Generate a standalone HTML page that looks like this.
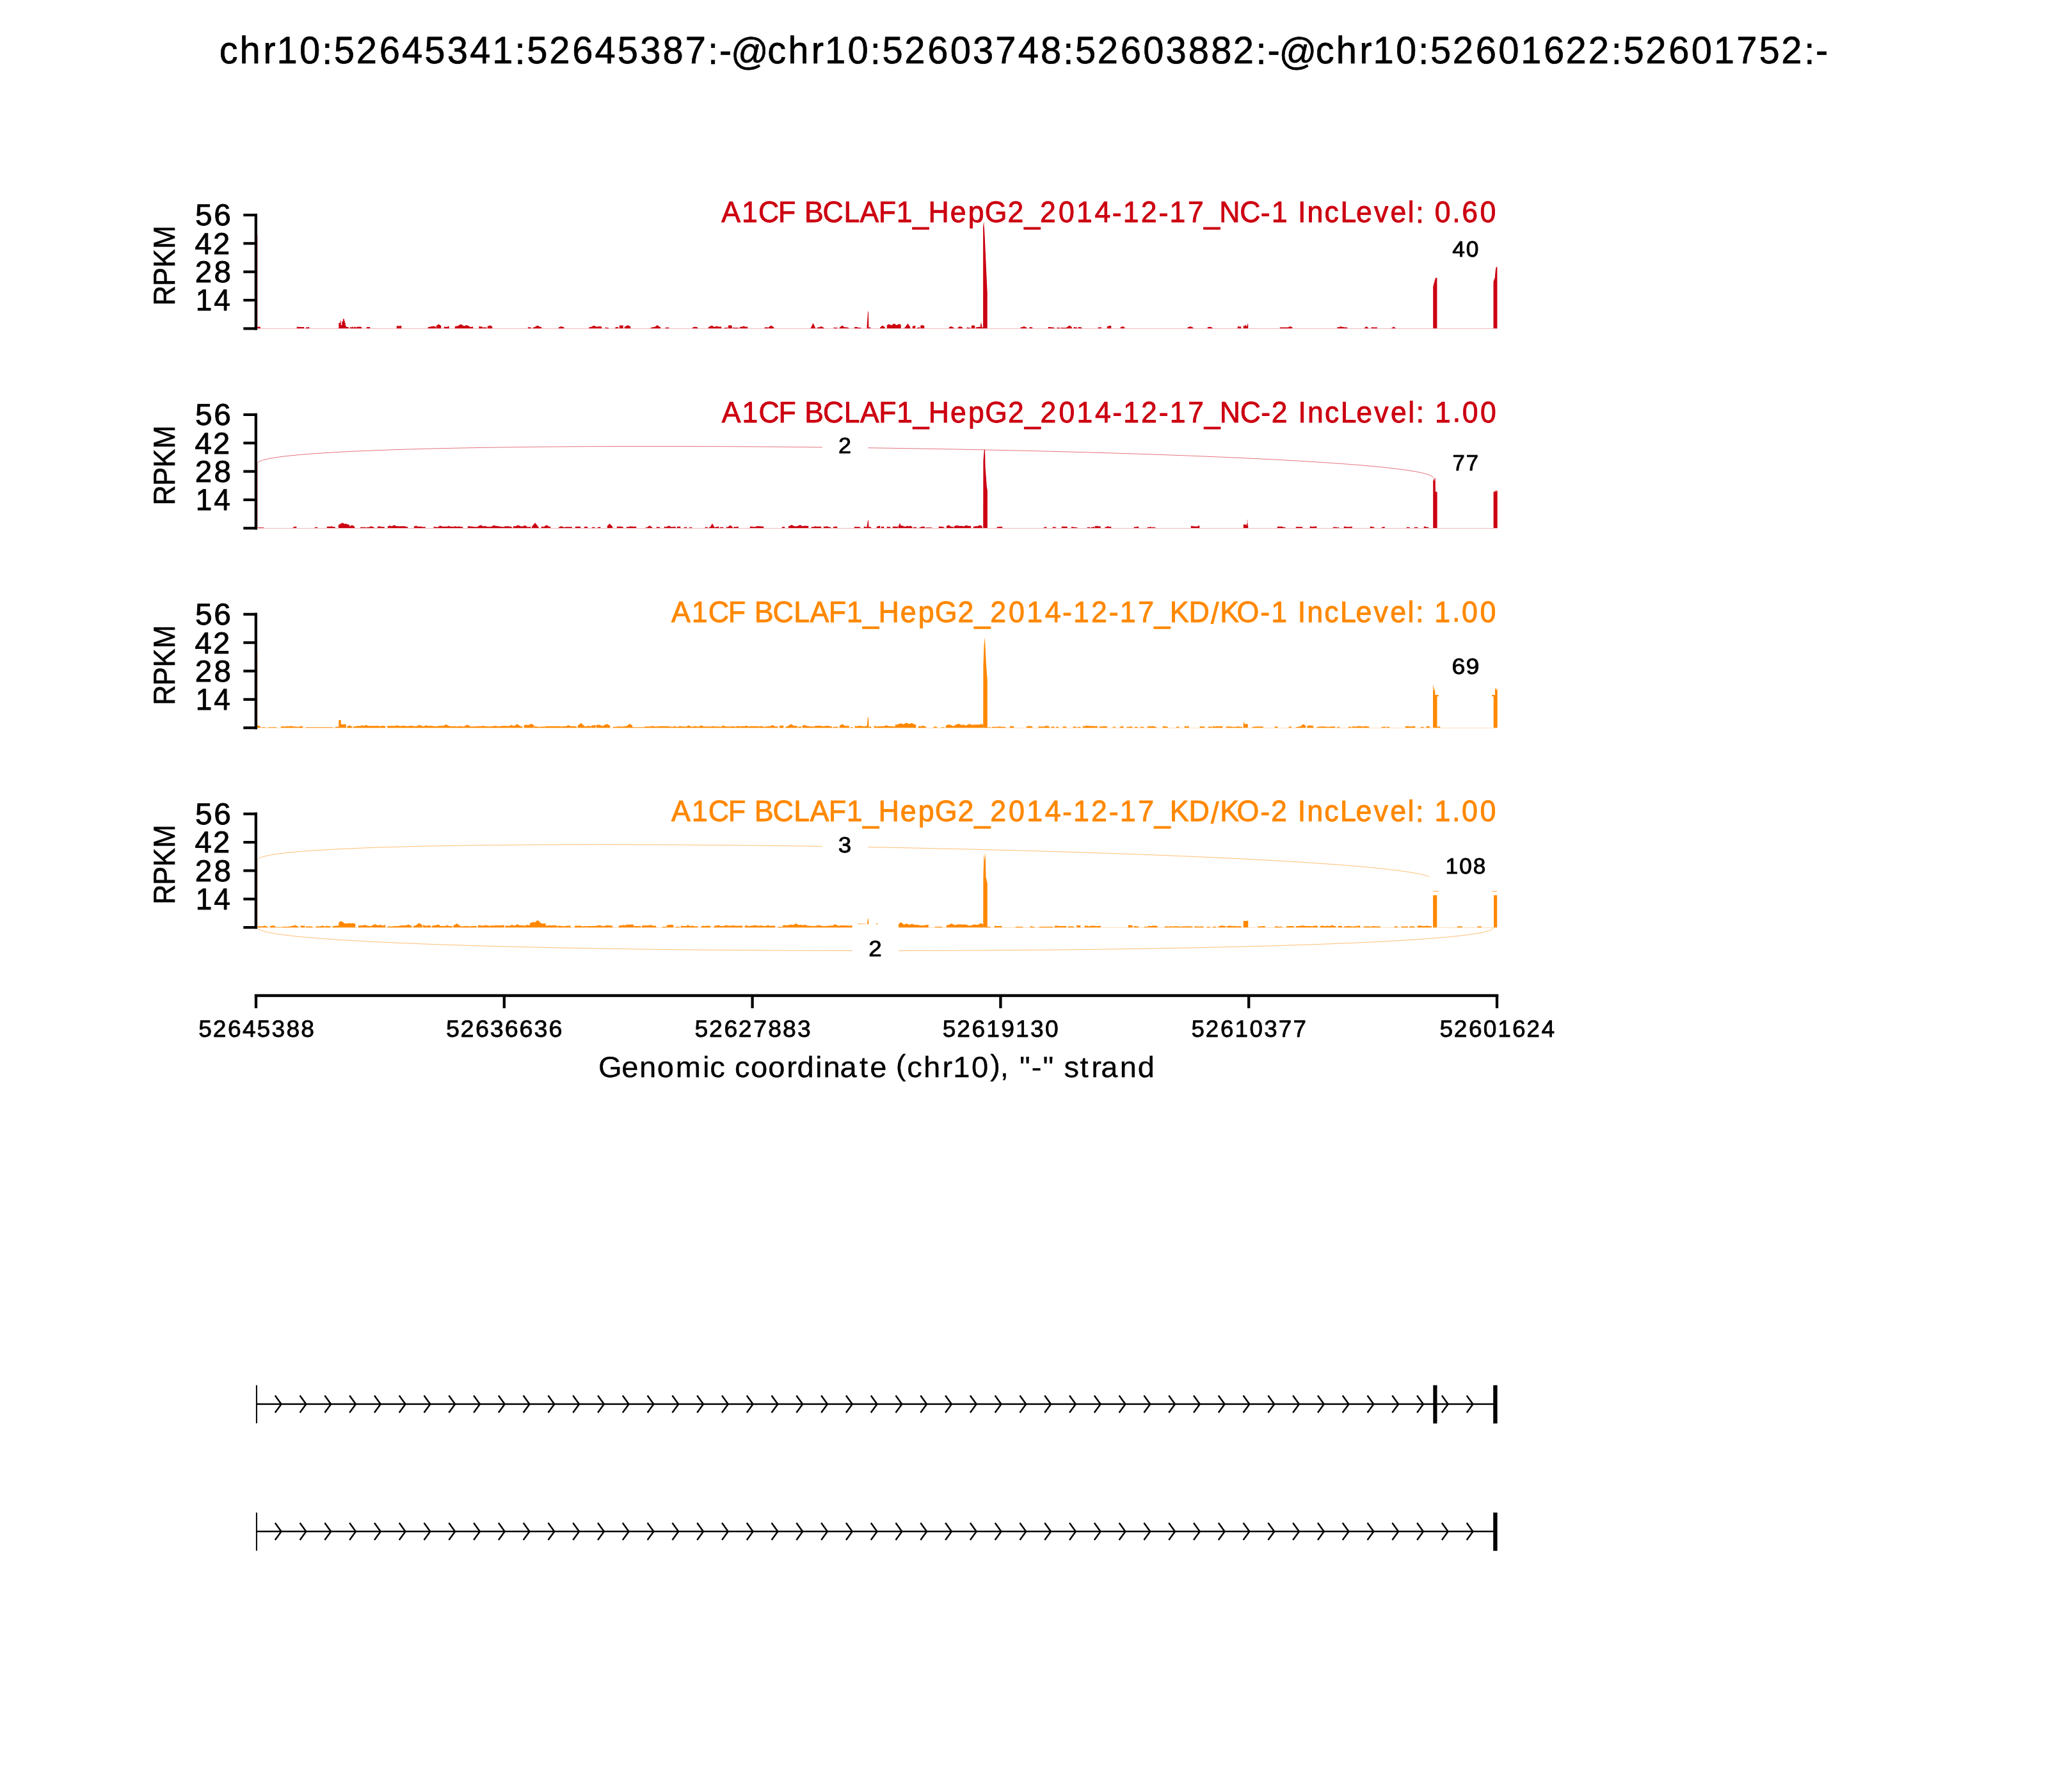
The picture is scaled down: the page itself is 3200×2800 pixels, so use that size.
<!DOCTYPE html>
<html><head><meta charset="utf-8"><title>sashimi</title><style>html,body{margin:0;padding:0;background:#fff;width:3200px;height:2800px;overflow:hidden}svg{will-change:transform}text{text-rendering:geometricPrecision}</style></head><body>
<svg width="3200" height="2800" viewBox="0 0 3200 2800" style="display:block">
<rect width="3200" height="2800" fill="#fff"/>
<g font-family="Liberation Sans, sans-serif">
<rect x="402.1" y="366.40" width="0.9" height="147.00" fill="#CC0011" opacity="0.35"/>
<path d="M401.75 513.40 L401.75 510.90 L403.75 510.90 L403.75 510.40 L406.75 510.40 L406.75 513.40ZM463.75 513.40 L463.75 510.40 L464.75 510.40 L464.75 510.90 L466.25 510.90 L466.25 510.40 L466.75 510.40 L466.75 510.90 L467.25 510.90 L467.25 510.40 L467.75 510.40 L467.75 510.90 L475.25 510.90 L475.25 513.40ZM477.75 513.40 L477.75 511.40 L481.25 511.40 L481.25 510.90 L481.75 510.90 L481.75 511.40 L482.25 511.40 L482.25 510.90 L483.25 510.90 L483.25 513.40ZM529.25 513.40 L529.25 504.40 L531.75 504.40 L531.75 500.90 L532.75 500.90 L532.75 507.90 L534.25 507.90 L534.25 502.40 L535.75 502.40 L535.75 499.40 L536.25 499.40 L536.25 497.90 L537.75 497.90 L537.75 500.90 L538.75 500.90 L538.75 504.40 L539.75 504.40 L539.75 507.90 L540.25 507.90 L540.25 509.90 L540.75 509.90 L540.75 509.40 L541.25 509.40 L541.25 510.90 L544.75 510.90 L544.75 513.40ZM546.75 513.40 L546.75 510.90 L547.75 510.90 L547.75 511.40 L549.75 511.40 L549.75 510.90 L550.25 510.90 L550.25 509.90 L550.75 509.90 L550.75 510.40 L551.25 510.40 L551.25 511.40 L553.75 511.40 L553.75 510.40 L554.25 510.40 L554.25 509.90 L554.75 509.90 L554.75 510.90 L555.25 510.90 L555.25 511.40 L557.25 511.40 L557.25 510.90 L557.75 510.90 L557.75 510.40 L558.75 510.40 L558.75 510.90 L559.75 510.90 L559.75 510.40 L563.75 510.40 L563.75 510.90 L565.25 510.90 L565.25 513.40ZM572.75 513.40 L572.75 510.90 L578.25 510.90 L578.25 513.40ZM619.75 513.40 L619.75 509.40 L620.75 509.40 L620.75 508.90 L622.25 508.90 L622.25 509.40 L624.25 509.40 L624.25 508.90 L627.25 508.90 L627.25 513.40ZM668.75 513.40 L668.75 510.90 L671.25 510.90 L671.25 510.40 L673.25 510.40 L673.25 509.90 L676.75 509.90 L676.75 509.40 L677.75 509.40 L677.75 509.90 L678.25 509.90 L678.25 509.40 L678.75 509.40 L678.75 509.90 L679.75 509.90 L679.75 510.40 L681.25 510.40 L681.25 513.40ZM681.75 513.40 L681.75 508.90 L682.25 508.90 L682.25 508.40 L682.75 508.40 L682.75 507.90 L683.75 507.90 L683.75 507.40 L684.25 507.40 L684.25 506.90 L685.25 506.90 L685.25 506.40 L685.75 506.40 L685.75 506.90 L686.75 506.90 L686.75 507.40 L687.25 507.40 L687.25 507.90 L688.25 507.90 L688.25 508.40 L688.75 508.40 L688.75 508.90 L689.25 508.90 L689.25 513.40ZM693.75 513.40 L693.75 510.40 L695.75 510.40 L695.75 510.90 L697.25 510.90 L697.25 510.40 L697.75 510.40 L697.75 510.90 L698.25 510.90 L698.25 510.40 L699.75 510.40 L699.75 509.90 L701.25 509.90 L701.25 509.40 L701.75 509.40 L701.75 513.40ZM710.75 513.40 L710.75 509.90 L712.25 509.90 L712.25 509.40 L712.75 509.40 L712.75 509.90 L713.25 509.90 L713.25 509.40 L715.25 509.40 L715.25 508.90 L716.25 508.90 L716.25 508.40 L717.25 508.40 L717.25 507.90 L717.75 507.90 L717.75 507.40 L718.75 507.40 L718.75 506.90 L719.75 506.90 L719.75 506.40 L720.25 506.40 L720.25 506.90 L721.25 506.90 L721.25 507.40 L722.25 507.40 L722.25 507.90 L722.75 507.90 L722.75 508.40 L723.75 508.40 L723.75 508.90 L724.75 508.90 L724.75 509.40 L725.75 509.40 L725.75 508.90 L727.25 508.90 L727.25 508.40 L728.25 508.40 L728.25 507.90 L729.75 507.90 L729.75 508.40 L730.75 508.40 L730.75 508.90 L732.25 508.90 L732.25 509.40 L733.25 509.40 L733.25 509.90 L733.75 509.90 L733.75 510.90 L734.25 510.90 L734.25 510.40 L734.75 510.40 L734.75 510.90 L736.75 510.90 L736.75 510.40 L739.25 510.40 L739.25 513.40ZM748.25 513.40 L748.25 509.90 L751.25 509.90 L751.25 510.40 L753.75 510.40 L753.75 510.90 L754.25 510.90 L754.25 513.40ZM754.75 513.40 L754.75 511.40 L759.75 511.40 L759.75 510.90 L760.25 510.90 L760.25 513.40ZM761.75 513.40 L761.75 509.40 L763.75 509.40 L763.75 508.90 L764.75 508.90 L764.75 508.40 L766.25 508.40 L766.25 508.90 L767.25 508.90 L767.25 509.40 L768.25 509.40 L768.25 509.90 L769.25 509.90 L769.25 513.40ZM824.75 513.40 L824.75 511.40 L825.75 511.40 L825.75 510.90 L826.75 510.90 L826.75 511.40 L828.75 511.40 L828.75 511.90 L829.25 511.90 L829.25 511.40 L829.75 511.40 L829.75 511.90 L830.25 511.90 L830.25 513.40ZM832.75 513.40 L832.75 511.40 L835.25 511.40 L835.25 510.90 L835.75 510.90 L835.75 510.40 L836.75 510.40 L836.75 509.90 L837.75 509.90 L837.75 509.40 L838.75 509.40 L838.75 508.90 L839.75 508.90 L839.75 508.40 L840.25 508.40 L840.25 508.90 L841.25 508.90 L841.25 509.40 L842.25 509.40 L842.25 509.90 L843.25 509.90 L843.25 510.40 L844.25 510.40 L844.25 510.90 L846.25 510.90 L846.25 513.40ZM872.75 513.40 L872.75 511.40 L873.75 511.40 L873.75 510.90 L874.75 510.90 L874.75 510.40 L876.25 510.40 L876.25 509.90 L877.75 509.90 L877.75 510.40 L879.25 510.40 L879.25 510.90 L881.25 510.90 L881.25 513.40ZM920.25 513.40 L920.25 510.90 L921.25 510.90 L921.25 511.40 L922.25 511.40 L922.25 510.90 L923.75 510.90 L923.75 510.40 L924.75 510.40 L924.75 509.90 L925.75 509.90 L925.75 509.40 L926.75 509.40 L926.75 508.90 L927.75 508.90 L927.75 508.40 L928.25 508.40 L928.25 508.90 L929.25 508.90 L929.25 509.40 L930.25 509.40 L930.25 509.90 L931.25 509.90 L931.25 510.40 L934.25 510.40 L934.25 509.90 L934.75 509.90 L934.75 510.40 L935.25 510.40 L935.25 509.90 L939.25 509.90 L939.25 510.40 L940.25 510.40 L940.25 513.40ZM945.75 513.40 L945.75 511.40 L947.75 511.40 L947.75 511.90 L950.75 511.90 L950.75 513.40ZM961.25 513.40 L961.25 511.40 L962.75 511.40 L962.75 510.90 L965.75 510.90 L965.75 511.40 L966.25 511.40 L966.25 513.40ZM967.75 513.40 L967.75 508.40 L973.75 508.40 L973.75 513.40ZM975.75 513.40 L975.75 509.90 L976.25 509.90 L976.25 510.40 L976.75 510.40 L976.75 509.90 L977.75 509.90 L977.75 509.40 L978.75 509.40 L978.75 508.90 L979.75 508.90 L979.75 508.40 L980.75 508.40 L980.75 507.90 L981.25 507.90 L981.25 508.40 L982.25 508.40 L982.25 508.90 L983.25 508.90 L983.25 509.40 L984.25 509.40 L984.25 509.90 L985.25 509.90 L985.25 513.40ZM1016.75 513.40 L1016.75 511.40 L1017.25 511.40 L1017.25 511.90 L1017.75 511.90 L1017.75 511.40 L1018.25 511.40 L1018.25 511.90 L1018.75 511.90 L1018.75 511.40 L1020.25 511.40 L1020.25 510.90 L1023.25 510.90 L1023.25 510.40 L1023.75 510.40 L1023.75 509.90 L1024.75 509.90 L1024.75 509.40 L1025.25 509.40 L1025.25 508.90 L1025.75 508.90 L1025.75 508.40 L1026.75 508.40 L1026.75 507.90 L1027.25 507.90 L1027.25 508.40 L1028.25 508.40 L1028.25 508.90 L1028.75 508.90 L1028.75 509.40 L1029.25 509.40 L1029.25 509.90 L1030.25 509.90 L1030.25 510.40 L1030.75 510.40 L1030.75 510.90 L1032.25 510.90 L1032.25 513.40ZM1039.75 513.40 L1039.75 511.40 L1041.25 511.40 L1041.25 511.90 L1042.75 511.90 L1042.75 511.40 L1045.25 511.40 L1045.25 513.40ZM1081.75 513.40 L1081.75 511.40 L1082.25 511.40 L1082.25 511.90 L1082.75 511.90 L1082.75 511.40 L1083.75 511.40 L1083.75 510.90 L1085.25 510.90 L1085.25 510.40 L1086.75 510.40 L1086.75 510.90 L1088.75 510.90 L1088.75 511.40 L1090.25 511.40 L1090.25 513.40ZM1106.75 513.40 L1106.75 510.90 L1107.75 510.90 L1107.75 510.40 L1108.75 510.40 L1108.75 509.90 L1109.75 509.90 L1109.75 509.40 L1110.75 509.40 L1110.75 508.90 L1111.75 508.90 L1111.75 508.40 L1112.25 508.40 L1112.25 508.90 L1113.25 508.90 L1113.25 509.40 L1114.25 509.40 L1114.25 509.90 L1115.25 509.90 L1115.25 510.40 L1116.25 510.40 L1116.25 510.90 L1116.75 510.90 L1116.75 510.40 L1118.25 510.40 L1118.25 509.90 L1119.25 509.90 L1119.25 509.40 L1120.75 509.40 L1120.75 509.90 L1121.75 509.90 L1121.75 510.40 L1125.25 510.40 L1125.25 509.90 L1125.75 509.90 L1125.75 510.40 L1127.25 510.40 L1127.25 513.40ZM1131.75 513.40 L1131.75 511.90 L1135.75 511.90 L1135.75 511.40 L1136.75 511.40 L1136.75 513.40ZM1137.75 513.40 L1137.75 508.90 L1138.25 508.90 L1138.25 508.40 L1139.75 508.40 L1139.75 507.90 L1141.25 507.90 L1141.25 508.40 L1142.75 508.40 L1142.75 508.90 L1143.75 508.90 L1143.75 513.40ZM1145.25 513.40 L1145.25 511.40 L1146.25 511.40 L1146.25 511.90 L1153.75 511.90 L1153.75 513.40ZM1155.75 513.40 L1155.75 510.90 L1157.25 510.90 L1157.25 510.40 L1157.75 510.40 L1157.75 510.90 L1158.25 510.90 L1158.25 510.40 L1160.25 510.40 L1160.25 509.90 L1161.25 509.90 L1161.25 509.40 L1162.75 509.40 L1162.75 509.90 L1163.75 509.90 L1163.75 510.40 L1165.25 510.40 L1165.25 510.90 L1165.75 510.90 L1165.75 510.40 L1166.75 510.40 L1166.75 510.90 L1167.25 510.90 L1167.25 510.40 L1168.25 510.40 L1168.25 513.40ZM1194.75 513.40 L1194.75 510.90 L1195.25 510.90 L1195.25 511.40 L1200.25 511.40 L1200.25 513.40ZM1200.75 513.40 L1200.75 510.90 L1201.75 510.90 L1201.75 510.40 L1202.25 510.40 L1202.25 509.90 L1203.25 509.90 L1203.25 509.40 L1203.75 509.40 L1203.75 508.90 L1204.75 508.90 L1204.75 508.40 L1205.25 508.40 L1205.25 508.90 L1206.25 508.90 L1206.25 509.40 L1206.75 509.40 L1206.75 509.90 L1207.75 509.90 L1207.75 510.40 L1208.25 510.40 L1208.25 510.90 L1209.25 510.90 L1209.25 513.40ZM1266.75 513.40 L1266.75 511.90 L1267.25 511.90 L1267.25 510.90 L1267.75 510.90 L1267.75 509.90 L1268.25 509.90 L1268.25 508.90 L1268.75 508.90 L1268.75 507.90 L1269.25 507.90 L1269.25 506.40 L1269.75 506.40 L1269.75 505.40 L1270.25 505.40 L1270.25 504.90 L1270.75 504.90 L1270.75 505.90 L1271.25 505.90 L1271.25 506.90 L1271.75 506.90 L1271.75 507.90 L1272.25 507.90 L1272.25 508.90 L1272.75 508.90 L1272.75 509.90 L1273.25 509.90 L1273.25 511.40 L1273.75 511.40 L1273.75 512.40 L1274.75 512.40 L1274.75 513.40ZM1276.75 513.40 L1276.75 511.40 L1280.25 511.40 L1280.25 510.90 L1281.25 510.90 L1281.25 510.40 L1282.25 510.40 L1282.25 509.90 L1283.75 509.90 L1283.75 510.40 L1284.75 510.40 L1284.75 510.90 L1285.75 510.90 L1285.75 511.40 L1286.25 511.40 L1286.25 511.90 L1287.75 511.90 L1287.75 513.40ZM1302.75 513.40 L1302.75 511.40 L1304.25 511.40 L1304.25 511.90 L1307.25 511.90 L1307.25 511.40 L1308.25 511.40 L1308.25 513.40ZM1311.75 513.40 L1311.75 511.40 L1312.25 511.40 L1312.25 510.90 L1313.25 510.90 L1313.25 510.40 L1313.75 510.40 L1313.75 509.90 L1314.25 509.90 L1314.25 509.40 L1315.25 509.40 L1315.25 508.90 L1315.75 508.90 L1315.75 508.40 L1316.25 508.40 L1316.25 508.90 L1316.75 508.90 L1316.75 509.40 L1317.75 509.40 L1317.75 509.90 L1318.25 509.90 L1318.25 510.40 L1318.75 510.40 L1318.75 510.90 L1319.75 510.90 L1319.75 511.40 L1320.25 511.40 L1320.25 513.40ZM1320.75 513.40 L1320.75 510.90 L1322.25 510.90 L1322.25 511.40 L1324.25 511.40 L1324.25 511.90 L1326.25 511.90 L1326.25 513.40ZM1334.75 513.40 L1334.75 511.40 L1335.75 511.40 L1335.75 510.90 L1339.75 510.90 L1339.75 511.40 L1340.75 511.40 L1340.75 511.90 L1344.75 511.90 L1344.75 511.40 L1345.25 511.40 L1345.25 513.40ZM1357.25 513.40 L1357.25 511.40 L1360.25 511.40 L1360.25 513.40ZM1375.25 513.40 L1375.25 510.90 L1376.25 510.90 L1376.25 510.40 L1376.75 510.40 L1376.75 509.90 L1377.25 509.90 L1377.25 509.40 L1378.25 509.40 L1378.25 508.90 L1378.75 508.90 L1378.75 508.40 L1379.25 508.40 L1379.25 508.90 L1379.75 508.90 L1379.75 509.40 L1380.75 509.40 L1380.75 509.90 L1381.25 509.90 L1381.25 510.40 L1381.75 510.40 L1381.75 510.90 L1382.75 510.90 L1382.75 513.40ZM1385.75 513.40 L1385.75 507.90 L1386.25 507.90 L1386.25 507.40 L1387.75 507.40 L1387.75 506.90 L1388.25 506.90 L1388.25 506.40 L1389.75 506.40 L1389.75 506.90 L1390.25 506.90 L1390.25 507.40 L1391.75 507.40 L1391.75 507.90 L1392.25 507.90 L1392.25 508.40 L1392.75 508.40 L1392.75 507.90 L1393.75 507.90 L1393.75 507.40 L1394.25 507.40 L1394.25 506.90 L1395.25 506.90 L1395.25 506.40 L1395.75 506.40 L1395.75 505.90 L1396.75 505.90 L1396.75 505.40 L1397.25 505.40 L1397.25 505.90 L1398.25 505.90 L1398.25 506.40 L1398.75 506.40 L1398.75 506.90 L1399.75 506.90 L1399.75 507.40 L1400.25 507.40 L1400.25 507.90 L1401.75 507.90 L1401.75 507.40 L1402.75 507.40 L1402.75 506.90 L1403.75 506.90 L1403.75 506.40 L1404.75 506.40 L1404.75 505.90 L1405.25 505.90 L1405.25 506.40 L1406.25 506.40 L1406.25 506.90 L1407.25 506.90 L1407.25 507.40 L1407.75 507.40 L1407.75 513.40ZM1411.75 513.40 L1411.75 512.40 L1413.75 512.40 L1413.75 511.40 L1414.25 511.40 L1414.25 510.90 L1414.75 510.90 L1414.75 510.40 L1415.25 510.40 L1415.25 509.40 L1415.75 509.40 L1415.75 508.90 L1416.25 508.90 L1416.25 507.90 L1416.75 507.90 L1416.75 507.40 L1417.25 507.40 L1417.25 506.90 L1417.75 506.90 L1417.75 505.90 L1418.25 505.90 L1418.25 505.40 L1418.75 505.40 L1418.75 506.40 L1419.25 506.40 L1419.25 506.90 L1419.75 506.90 L1419.75 507.40 L1420.25 507.40 L1420.25 508.40 L1420.75 508.40 L1420.75 508.90 L1421.25 508.90 L1421.25 509.90 L1421.75 509.90 L1421.75 510.40 L1422.25 510.40 L1422.25 513.40ZM1425.75 513.40 L1425.75 509.40 L1427.75 509.40 L1427.75 508.90 L1429.25 508.90 L1429.25 508.40 L1429.75 508.40 L1429.75 508.90 L1430.25 508.90 L1430.25 513.40ZM1432.75 513.40 L1432.75 511.90 L1435.25 511.90 L1435.25 511.40 L1436.75 511.40 L1436.75 510.90 L1437.25 510.90 L1437.25 513.40ZM1438.25 513.40 L1438.25 508.40 L1440.25 508.40 L1440.25 507.90 L1441.75 507.90 L1441.75 508.40 L1443.25 508.40 L1443.25 508.90 L1444.25 508.90 L1444.25 513.40ZM1482.75 513.40 L1482.75 511.40 L1483.25 511.40 L1483.25 510.90 L1484.25 510.90 L1484.25 510.40 L1485.25 510.40 L1485.25 509.90 L1486.75 509.90 L1486.75 510.40 L1487.75 510.40 L1487.75 510.90 L1488.75 510.90 L1488.75 511.40 L1490.25 511.40 L1490.25 513.40ZM1496.75 513.40 L1496.75 511.40 L1497.25 511.40 L1497.25 510.90 L1498.25 510.90 L1498.25 510.40 L1499.25 510.40 L1499.25 509.90 L1500.75 509.90 L1500.75 510.40 L1501.75 510.40 L1501.75 510.90 L1503.75 510.90 L1503.75 513.40ZM1510.75 513.40 L1510.75 511.40 L1512.25 511.40 L1512.25 511.90 L1516.25 511.90 L1516.25 513.40ZM1517.75 513.40 L1517.75 508.90 L1518.75 508.90 L1518.75 508.40 L1522.75 508.40 L1522.75 508.90 L1523.25 508.90 L1523.25 513.40ZM1524.75 513.40 L1524.75 510.90 L1525.25 510.90 L1525.25 511.40 L1526.75 511.40 L1526.75 510.90 L1529.75 510.90 L1529.75 510.40 L1530.75 510.40 L1530.75 510.90 L1531.75 510.90 L1531.75 508.40 L1532.25 508.40 L1532.25 505.90 L1532.75 505.90 L1532.75 503.40 L1533.25 503.40 L1533.25 505.90 L1533.75 505.90 L1533.75 508.40 L1534.25 508.40 L1534.25 511.40 L1535.75 511.40 L1535.75 510.90 L1536.25 510.90 L1536.25 513.40ZM1594.75 513.40 L1594.75 510.90 L1595.75 510.90 L1595.75 511.40 L1597.25 511.40 L1597.25 510.90 L1598.25 510.90 L1598.25 510.40 L1599.25 510.40 L1599.25 509.90 L1600.75 509.90 L1600.75 510.40 L1601.75 510.40 L1601.75 510.90 L1602.75 510.90 L1602.75 511.40 L1604.25 511.40 L1604.25 513.40ZM1608.75 513.40 L1608.75 510.90 L1611.25 510.90 L1611.25 511.40 L1613.25 511.40 L1613.25 513.40ZM1637.75 513.40 L1637.75 510.90 L1640.75 510.90 L1640.75 511.40 L1641.25 511.40 L1641.25 510.90 L1641.75 510.90 L1641.75 511.40 L1642.25 511.40 L1642.25 510.90 L1642.75 510.90 L1642.75 511.40 L1646.25 511.40 L1646.25 511.90 L1646.75 511.90 L1646.75 511.40 L1647.25 511.40 L1647.25 513.40ZM1651.75 513.40 L1651.75 511.40 L1652.75 511.40 L1652.75 511.90 L1656.25 511.90 L1656.25 513.40ZM1657.75 513.40 L1657.75 511.40 L1658.25 511.40 L1658.25 511.90 L1666.75 511.90 L1666.75 510.90 L1667.75 510.90 L1667.75 510.40 L1668.25 510.40 L1668.25 509.90 L1669.25 509.90 L1669.25 509.40 L1669.75 509.40 L1669.75 508.90 L1670.75 508.90 L1670.75 508.40 L1671.25 508.40 L1671.25 508.90 L1672.25 508.90 L1672.25 509.40 L1672.75 509.40 L1672.75 509.90 L1673.75 509.90 L1673.75 510.40 L1674.25 510.40 L1674.25 510.90 L1674.75 510.90 L1674.75 513.40ZM1677.75 513.40 L1677.75 510.90 L1679.75 510.90 L1679.75 511.40 L1681.75 511.40 L1681.75 511.90 L1682.25 511.90 L1682.25 511.40 L1683.25 511.40 L1683.25 513.40ZM1684.75 513.40 L1684.75 510.90 L1688.25 510.90 L1688.25 511.40 L1690.25 511.40 L1690.25 513.40ZM1715.75 513.40 L1715.75 510.90 L1716.25 510.90 L1716.25 511.40 L1719.75 511.40 L1719.75 510.90 L1720.75 510.90 L1720.75 513.40ZM1729.75 513.40 L1729.75 509.90 L1731.25 509.90 L1731.25 509.40 L1732.75 509.40 L1732.75 508.90 L1733.75 508.90 L1733.75 508.40 L1734.25 508.40 L1734.25 508.90 L1735.75 508.90 L1735.75 509.40 L1736.25 509.40 L1736.25 513.40ZM1750.75 513.40 L1750.75 510.90 L1752.25 510.90 L1752.25 510.40 L1753.25 510.40 L1753.25 509.90 L1754.75 509.90 L1754.75 510.40 L1755.75 510.40 L1755.75 510.90 L1757.25 510.90 L1757.25 513.40ZM1855.75 513.40 L1855.75 510.90 L1858.25 510.90 L1858.25 510.40 L1859.25 510.40 L1859.25 509.90 L1860.75 509.90 L1860.75 510.40 L1861.75 510.40 L1861.75 510.90 L1862.75 510.90 L1862.75 511.40 L1864.25 511.40 L1864.25 513.40ZM1886.75 513.40 L1886.75 511.40 L1887.25 511.40 L1887.25 510.90 L1889.75 510.90 L1889.75 510.40 L1891.25 510.40 L1891.25 510.90 L1892.75 510.90 L1892.75 511.40 L1893.25 511.40 L1893.25 511.90 L1894.75 511.90 L1894.75 513.40ZM1933.75 513.40 L1933.75 509.90 L1936.25 509.90 L1936.25 510.40 L1938.75 510.40 L1938.75 509.90 L1939.25 509.90 L1939.25 513.40ZM1942.75 513.40 L1942.75 508.90 L1943.25 508.90 L1943.25 509.40 L1943.75 509.40 L1943.75 508.90 L1944.25 508.90 L1944.25 509.40 L1944.75 509.40 L1944.75 508.90 L1945.25 508.90 L1945.25 507.90 L1945.75 507.90 L1945.75 507.40 L1946.25 507.40 L1946.25 507.90 L1946.75 507.90 L1946.75 508.90 L1947.25 508.90 L1947.25 509.90 L1948.25 509.90 L1948.25 508.90 L1948.75 508.90 L1948.75 506.90 L1949.25 506.90 L1949.25 505.40 L1949.75 505.40 L1949.75 506.90 L1950.25 506.90 L1950.25 513.40ZM1999.75 513.40 L1999.75 511.40 L2013.25 511.40 L2013.25 510.90 L2014.25 510.90 L2014.25 510.40 L2015.25 510.40 L2015.25 509.90 L2016.75 509.90 L2016.75 510.40 L2017.75 510.40 L2017.75 510.90 L2019.25 510.90 L2019.25 513.40ZM2089.75 513.40 L2089.75 510.90 L2091.75 510.90 L2091.75 511.40 L2092.25 511.40 L2092.25 510.90 L2093.25 510.90 L2093.25 510.40 L2094.25 510.40 L2094.25 509.90 L2095.75 509.90 L2095.75 510.40 L2096.75 510.40 L2096.75 510.90 L2100.25 510.90 L2100.25 511.40 L2105.25 511.40 L2105.25 513.40ZM2131.75 513.40 L2131.75 512.40 L2132.25 512.40 L2132.25 511.90 L2132.75 511.90 L2132.75 511.40 L2133.25 511.40 L2133.25 510.90 L2134.25 510.90 L2134.25 510.40 L2134.75 510.40 L2134.75 509.90 L2135.25 509.90 L2135.25 510.40 L2135.75 510.40 L2135.75 510.90 L2136.75 510.90 L2136.75 511.40 L2137.25 511.40 L2137.25 511.90 L2137.75 511.90 L2137.75 512.40 L2138.25 512.40 L2138.25 513.40ZM2142.75 513.40 L2142.75 510.90 L2143.75 510.90 L2143.75 511.40 L2151.25 511.40 L2151.25 510.90 L2151.75 510.90 L2151.75 513.40ZM2173.75 513.40 L2173.75 512.40 L2175.25 512.40 L2175.25 511.90 L2175.75 511.90 L2175.75 511.40 L2176.25 511.40 L2176.25 510.90 L2177.25 510.90 L2177.25 510.40 L2177.75 510.40 L2177.75 510.90 L2178.75 510.90 L2178.75 511.40 L2179.25 511.40 L2179.25 511.90 L2179.75 511.90 L2179.75 512.40 L2181.25 512.40 L2181.25 513.40Z" fill="#CC0011"/>
<path d="M1354.40 513.40 L1355.00 502.20 L1356.30 485.40 L1357.00 488.20 L1357.40 511.40 L1357.40 513.40Z" fill="#CC0011"/>
<path d="M1536.10 513.40 L1536.10 355.00 L1537.20 346.00 L1538.50 366.00 L1542.70 458.00 L1542.70 513.40Z" fill="#CC0011"/>
<path d="M2239.20 513.40 L2239.20 448.00 L2241.00 441.00 L2242.50 436.00 L2243.50 433.70 L2245.40 433.70 L2245.40 513.40Z" fill="#CC0011"/>
<path d="M2333.50 513.40 L2333.50 440.00 L2335.70 434.00 L2336.50 425.00 L2337.50 418.00 L2339.40 416.40 L2339.40 513.40Z" fill="#CC0011"/>
<rect x="402" y="513" width="1937.5" height="1" fill="rgb(240, 187, 192)"/>
<rect x="397.7" y="333.90" width="4.3" height="181.60" fill="#000"/>
<rect x="380.3" y="511.30" width="21.7" height="4.2" fill="#000"/>
<rect x="380.3" y="466.95" width="21.7" height="4.2" fill="#000"/>
<rect x="380.3" y="422.60" width="21.7" height="4.2" fill="#000"/>
<rect x="380.3" y="378.25" width="21.7" height="4.2" fill="#000"/>
<rect x="380.3" y="333.90" width="21.7" height="4.2" fill="#000"/>
<rect x="402.1" y="724.50" width="0.9" height="100.80" fill="#CC0011" opacity="0.35"/>
<path d="M402.75 825.30 L402.75 824.30 L412.25 824.30 L412.25 825.30ZM457.75 825.30 L457.75 823.80 L459.25 823.80 L459.25 823.30 L460.75 823.30 L460.75 822.80 L463.25 822.80 L463.25 825.30ZM491.75 825.30 L491.75 823.80 L496.25 823.80 L496.25 825.30ZM510.75 825.30 L510.75 822.80 L517.25 822.80 L517.25 822.30 L518.75 822.30 L518.75 822.80 L520.25 822.80 L520.25 823.30 L523.75 823.30 L523.75 825.30ZM528.75 825.30 L528.75 820.30 L529.25 820.30 L529.25 819.80 L530.25 819.80 L530.25 819.30 L531.25 819.30 L531.25 818.80 L531.75 818.80 L531.75 818.30 L532.75 818.30 L532.75 817.80 L533.75 817.80 L533.75 817.30 L534.75 817.30 L534.75 816.80 L535.25 816.80 L535.25 817.30 L536.25 817.30 L536.25 817.80 L537.25 817.80 L537.25 818.30 L538.25 818.30 L538.25 818.80 L539.25 818.80 L539.25 818.30 L540.75 818.30 L540.75 818.80 L542.25 818.80 L542.25 819.30 L543.75 819.30 L543.75 819.80 L545.25 819.80 L545.25 820.30 L546.25 820.30 L546.25 822.80 L546.75 822.80 L546.75 822.30 L547.25 822.30 L547.25 821.80 L548.25 821.80 L548.25 821.30 L548.75 821.30 L548.75 820.80 L549.75 820.80 L549.75 820.30 L550.25 820.30 L550.25 820.80 L551.25 820.80 L551.25 821.30 L551.75 821.30 L551.75 821.80 L552.75 821.80 L552.75 822.30 L553.25 822.30 L553.25 822.80 L554.25 822.80 L554.25 825.30ZM562.75 825.30 L562.75 824.30 L563.25 824.30 L563.25 823.80 L571.25 823.80 L571.25 824.30 L572.25 824.30 L572.25 825.30ZM572.75 825.30 L572.75 823.80 L577.25 823.80 L577.25 823.30 L577.75 823.30 L577.75 822.80 L579.25 822.80 L579.25 822.30 L580.75 822.30 L580.75 822.80 L582.25 822.80 L582.25 823.30 L582.75 823.30 L582.75 823.80 L584.75 823.80 L584.75 825.30ZM589.75 825.30 L589.75 822.80 L592.25 822.80 L592.25 822.30 L593.75 822.30 L593.75 822.80 L595.25 822.80 L595.25 823.30 L600.75 823.30 L600.75 825.30ZM605.75 825.30 L605.75 822.30 L607.25 822.30 L607.25 821.80 L608.25 821.80 L608.25 821.30 L609.75 821.30 L609.75 821.80 L610.75 821.80 L610.75 822.30 L612.75 822.30 L612.75 821.80 L613.75 821.80 L613.75 821.30 L614.75 821.30 L614.75 820.80 L615.75 820.80 L615.75 820.30 L616.25 820.30 L616.25 820.80 L617.25 820.80 L617.25 821.30 L618.25 821.30 L618.25 821.80 L619.25 821.80 L619.25 822.30 L633.25 822.30 L633.25 822.80 L634.75 822.80 L634.75 823.30 L637.25 823.30 L637.25 825.30ZM646.75 825.30 L646.75 822.80 L647.75 822.80 L647.75 822.30 L648.75 822.30 L648.75 821.80 L649.75 821.80 L649.75 821.30 L650.25 821.30 L650.25 821.80 L651.25 821.80 L651.25 822.30 L652.25 822.30 L652.25 822.80 L659.25 822.80 L659.25 823.30 L661.75 823.30 L661.75 823.80 L662.75 823.80 L662.75 823.30 L664.75 823.30 L664.75 825.30ZM677.75 825.30 L677.75 822.80 L678.75 822.80 L678.75 823.30 L681.75 823.30 L681.75 823.80 L684.25 823.80 L684.25 823.30 L684.75 823.30 L684.75 822.80 L685.75 822.80 L685.75 822.30 L686.75 822.30 L686.75 821.80 L687.75 821.80 L687.75 821.30 L688.25 821.30 L688.25 821.80 L689.25 821.80 L689.25 822.30 L690.25 822.30 L690.25 822.80 L699.25 822.80 L699.25 822.30 L700.25 822.30 L700.25 821.80 L701.75 821.80 L701.75 822.30 L702.75 822.30 L702.75 822.80 L707.25 822.80 L707.25 823.30 L708.75 823.30 L708.75 822.80 L710.25 822.80 L710.25 822.30 L711.75 822.30 L711.75 822.80 L719.75 822.80 L719.75 823.30 L723.25 823.30 L723.25 825.30ZM730.75 825.30 L730.75 822.30 L731.75 822.30 L731.75 822.80 L732.25 822.80 L732.25 822.30 L735.25 822.30 L735.25 822.80 L739.75 822.80 L739.75 823.30 L745.75 823.30 L745.75 822.80 L746.25 822.80 L746.25 823.30 L746.75 823.30 L746.75 822.30 L747.75 822.30 L747.75 821.80 L748.75 821.80 L748.75 821.30 L749.75 821.30 L749.75 820.80 L750.75 820.80 L750.75 820.30 L751.25 820.30 L751.25 820.80 L752.25 820.80 L752.25 821.30 L753.25 821.30 L753.25 821.80 L754.25 821.80 L754.25 822.30 L755.25 822.30 L755.25 822.80 L755.75 822.80 L755.75 822.30 L757.25 822.30 L757.25 821.80 L758.75 821.80 L758.75 822.30 L759.75 822.30 L759.75 822.80 L761.75 822.80 L761.75 823.30 L762.75 823.30 L762.75 822.80 L763.25 822.80 L763.25 823.30 L764.25 823.30 L764.25 822.80 L765.75 822.80 L765.75 823.30 L767.25 823.30 L767.25 822.80 L768.25 822.80 L768.25 822.30 L769.25 822.30 L769.25 821.80 L770.25 821.80 L770.25 821.30 L771.25 821.30 L771.25 820.80 L772.75 820.80 L772.75 821.30 L773.75 821.30 L773.75 821.80 L776.25 821.80 L776.25 822.30 L777.25 822.30 L777.25 821.80 L778.25 821.80 L778.25 822.30 L780.25 822.30 L780.25 822.80 L782.75 822.80 L782.75 823.30 L783.25 823.30 L783.25 822.80 L784.25 822.80 L784.25 823.30 L787.25 823.30 L787.25 822.80 L788.75 822.80 L788.75 822.30 L789.25 822.30 L789.25 822.80 L789.75 822.80 L789.75 822.30 L793.75 822.30 L793.75 821.80 L794.25 821.80 L794.25 822.30 L795.25 822.30 L795.25 823.30 L795.75 823.30 L795.75 822.80 L796.75 822.80 L796.75 822.30 L797.25 822.30 L797.25 822.80 L798.25 822.80 L798.25 823.30 L799.25 823.30 L799.25 823.80 L800.25 823.80 L800.25 825.30ZM801.75 825.30 L801.75 822.30 L806.25 822.30 L806.25 821.80 L807.25 821.80 L807.25 821.30 L808.25 821.30 L808.25 820.80 L809.25 820.80 L809.25 820.30 L809.75 820.30 L809.75 820.80 L810.75 820.80 L810.75 821.30 L811.75 821.30 L811.75 821.80 L812.75 821.80 L812.75 822.30 L813.75 822.30 L813.75 822.80 L814.75 822.80 L814.75 822.30 L816.25 822.30 L816.25 822.80 L817.25 822.80 L817.25 822.30 L817.75 822.30 L817.75 821.80 L818.75 821.80 L818.75 821.30 L819.75 821.30 L819.75 820.80 L820.25 820.80 L820.25 821.30 L821.25 821.30 L821.25 821.80 L822.25 821.80 L822.25 822.30 L822.75 822.30 L822.75 822.80 L823.75 822.80 L823.75 823.30 L824.25 823.30 L824.25 823.80 L825.25 823.80 L825.25 823.30 L828.75 823.30 L828.75 822.80 L829.25 822.80 L829.25 825.30ZM830.75 825.30 L830.75 823.30 L831.25 823.30 L831.25 822.30 L831.75 822.30 L831.75 821.80 L832.25 821.80 L832.25 821.30 L832.75 821.30 L832.75 820.30 L833.25 820.30 L833.25 819.80 L833.75 819.80 L833.75 819.30 L834.25 819.30 L834.25 818.80 L834.75 818.80 L834.75 818.30 L835.25 818.30 L835.25 817.30 L835.75 817.30 L835.75 816.80 L836.25 816.80 L836.25 817.30 L836.75 817.30 L836.75 818.30 L837.25 818.30 L837.25 818.80 L837.75 818.80 L837.75 819.30 L838.25 819.30 L838.25 819.80 L838.75 819.80 L838.75 820.30 L839.25 820.30 L839.25 821.30 L839.75 821.30 L839.75 821.80 L840.25 821.80 L840.25 822.30 L840.75 822.30 L840.75 823.30 L841.25 823.30 L841.25 823.80 L841.75 823.80 L841.75 824.30 L842.25 824.30 L842.25 825.30ZM845.75 825.30 L845.75 822.80 L848.25 822.80 L848.25 823.30 L849.75 823.30 L849.75 822.80 L850.75 822.80 L850.75 822.30 L851.25 822.30 L851.25 821.80 L852.25 821.80 L852.25 821.30 L852.75 821.30 L852.75 820.80 L853.75 820.80 L853.75 820.30 L854.25 820.30 L854.25 820.80 L855.25 820.80 L855.25 821.30 L855.75 821.30 L855.75 821.80 L856.75 821.80 L856.75 822.30 L857.25 822.30 L857.25 822.80 L860.25 822.80 L860.25 825.30ZM872.75 825.30 L872.75 823.80 L874.25 823.80 L874.25 823.30 L874.75 823.30 L874.75 822.80 L876.25 822.80 L876.25 822.30 L877.75 822.30 L877.75 822.80 L879.25 822.80 L879.25 823.30 L879.75 823.30 L879.75 823.80 L883.75 823.80 L883.75 823.30 L893.75 823.30 L893.75 825.30ZM898.75 825.30 L898.75 822.80 L899.75 822.80 L899.75 823.30 L900.25 823.30 L900.25 822.80 L906.75 822.80 L906.75 823.30 L907.25 823.30 L907.25 825.30ZM912.75 825.30 L912.75 823.30 L913.75 823.30 L913.75 822.80 L914.25 822.80 L914.25 823.30 L914.75 823.30 L914.75 822.80 L916.25 822.80 L916.25 823.30 L916.75 823.30 L916.75 822.80 L917.25 822.80 L917.25 823.30 L918.25 823.30 L918.25 825.30ZM924.75 825.30 L924.75 823.80 L929.75 823.80 L929.75 825.30ZM933.75 825.30 L933.75 823.80 L934.25 823.80 L934.25 823.30 L935.25 823.30 L935.25 823.80 L936.25 823.80 L936.25 823.30 L938.25 823.30 L938.25 825.30ZM948.75 825.30 L948.75 821.80 L949.25 821.80 L949.25 821.30 L949.75 821.30 L949.75 820.80 L950.25 820.80 L950.25 820.30 L950.75 820.30 L950.75 819.80 L951.25 819.80 L951.25 819.30 L951.75 819.30 L951.75 818.80 L952.25 818.80 L952.25 818.30 L952.75 818.30 L952.75 818.80 L953.25 818.80 L953.25 819.30 L953.75 819.30 L953.75 819.80 L954.25 819.80 L954.25 820.30 L954.75 820.30 L954.75 820.80 L955.25 820.80 L955.25 821.30 L955.75 821.30 L955.75 821.80 L956.25 821.80 L956.25 822.30 L956.75 822.30 L956.75 822.80 L957.25 822.80 L957.25 825.30ZM963.75 825.30 L963.75 823.30 L964.25 823.30 L964.25 822.80 L965.75 822.80 L965.75 822.30 L966.25 822.30 L966.25 822.80 L971.75 822.80 L971.75 823.30 L973.75 823.30 L973.75 825.30ZM978.75 825.30 L978.75 823.30 L982.75 823.30 L982.75 822.80 L984.25 822.80 L984.25 822.30 L985.75 822.30 L985.75 822.80 L994.25 822.80 L994.25 825.30ZM1008.75 825.30 L1008.75 823.80 L1009.75 823.80 L1009.75 824.30 L1011.25 824.30 L1011.25 823.80 L1011.75 823.80 L1011.75 823.30 L1012.25 823.30 L1012.25 822.80 L1013.25 822.80 L1013.25 822.30 L1013.75 822.30 L1013.75 821.80 L1014.75 821.80 L1014.75 821.30 L1015.25 821.30 L1015.25 821.80 L1016.25 821.80 L1016.25 822.30 L1016.75 822.30 L1016.75 822.80 L1017.75 822.80 L1017.75 823.30 L1018.25 823.30 L1018.25 823.80 L1019.25 823.80 L1019.25 825.30ZM1025.75 825.30 L1025.75 823.30 L1028.75 823.30 L1028.75 823.80 L1030.75 823.80 L1030.75 823.30 L1031.25 823.30 L1031.25 825.30ZM1037.75 825.30 L1037.75 822.80 L1039.25 822.80 L1039.25 823.30 L1040.75 823.30 L1040.75 823.80 L1041.25 823.80 L1041.25 823.30 L1041.75 823.30 L1041.75 822.80 L1042.75 822.80 L1042.75 822.30 L1043.75 822.30 L1043.75 821.80 L1044.75 821.80 L1044.75 821.30 L1045.25 821.30 L1045.25 821.80 L1046.25 821.80 L1046.25 822.30 L1047.25 822.30 L1047.25 822.80 L1048.25 822.80 L1048.25 823.30 L1049.25 823.30 L1049.25 823.80 L1049.75 823.80 L1049.75 823.30 L1053.25 823.30 L1053.25 822.80 L1055.25 822.80 L1055.25 823.30 L1055.75 823.30 L1055.75 825.30ZM1057.75 825.30 L1057.75 823.30 L1058.25 823.30 L1058.25 822.80 L1063.25 822.80 L1063.25 825.30ZM1068.75 825.30 L1068.75 823.80 L1072.75 823.80 L1072.75 823.30 L1073.25 823.30 L1073.25 825.30ZM1076.75 825.30 L1076.75 823.80 L1077.75 823.80 L1077.75 824.30 L1078.75 824.30 L1078.75 823.80 L1081.25 823.80 L1081.25 825.30ZM1101.75 825.30 L1101.75 823.30 L1102.75 823.30 L1102.75 823.80 L1105.25 823.80 L1105.25 824.30 L1106.25 824.30 L1106.25 825.30ZM1107.75 825.30 L1107.75 823.80 L1109.25 823.80 L1109.25 823.30 L1110.25 823.30 L1110.25 822.30 L1110.75 822.30 L1110.75 821.30 L1111.25 821.30 L1111.25 820.30 L1111.75 820.30 L1111.75 819.80 L1112.25 819.80 L1112.25 818.80 L1112.75 818.80 L1112.75 817.80 L1113.25 817.80 L1113.25 818.80 L1113.75 818.80 L1113.75 819.80 L1114.25 819.80 L1114.25 820.30 L1114.75 820.30 L1114.75 821.30 L1115.25 821.30 L1115.25 822.30 L1115.75 822.30 L1115.75 823.80 L1118.75 823.80 L1118.75 823.30 L1120.75 823.30 L1120.75 822.80 L1123.25 822.80 L1123.25 825.30ZM1124.75 825.30 L1124.75 823.80 L1129.25 823.80 L1129.25 823.30 L1129.75 823.30 L1129.75 823.80 L1130.25 823.80 L1130.25 825.30ZM1134.75 825.30 L1134.75 823.30 L1136.25 823.30 L1136.25 823.80 L1137.25 823.80 L1137.25 823.30 L1137.75 823.30 L1137.75 822.80 L1138.75 822.80 L1138.75 822.30 L1139.25 822.30 L1139.25 821.80 L1139.75 821.80 L1139.75 821.30 L1140.75 821.30 L1140.75 820.80 L1141.25 820.80 L1141.25 821.30 L1142.25 821.30 L1142.25 821.80 L1142.75 821.80 L1142.75 822.30 L1143.25 822.30 L1143.25 822.80 L1144.25 822.80 L1144.25 823.30 L1144.75 823.30 L1144.75 825.30ZM1146.25 825.30 L1146.25 823.30 L1146.75 823.30 L1146.75 823.80 L1147.25 823.80 L1147.25 823.30 L1152.25 823.30 L1152.25 822.80 L1153.75 822.80 L1153.75 825.30ZM1171.75 825.30 L1171.75 822.80 L1176.25 822.80 L1176.25 823.30 L1180.25 823.30 L1180.25 822.80 L1182.25 822.80 L1182.25 822.30 L1183.25 822.30 L1183.25 821.80 L1184.75 821.80 L1184.75 822.30 L1188.75 822.30 L1188.75 822.80 L1189.25 822.80 L1189.25 822.30 L1190.25 822.30 L1190.25 822.80 L1191.25 822.80 L1191.25 822.30 L1191.75 822.30 L1191.75 822.80 L1193.25 822.80 L1193.25 825.30ZM1221.75 825.30 L1221.75 823.80 L1222.25 823.80 L1222.25 823.30 L1226.25 823.30 L1226.25 825.30ZM1231.75 825.30 L1231.75 822.30 L1233.25 822.30 L1233.25 821.80 L1234.25 821.80 L1234.25 821.30 L1235.25 821.30 L1235.25 820.80 L1236.25 820.80 L1236.25 820.30 L1237.75 820.30 L1237.75 820.80 L1238.75 820.80 L1238.75 821.30 L1239.75 821.30 L1239.75 821.80 L1240.75 821.80 L1240.75 822.30 L1242.75 822.30 L1242.75 822.80 L1243.25 822.80 L1243.25 822.30 L1245.25 822.30 L1245.25 821.80 L1245.75 821.80 L1245.75 822.30 L1246.25 822.30 L1246.25 821.80 L1247.25 821.80 L1247.25 821.30 L1248.25 821.30 L1248.25 820.80 L1249.25 820.80 L1249.25 820.30 L1250.75 820.30 L1250.75 820.80 L1251.75 820.80 L1251.75 821.30 L1252.75 821.30 L1252.75 821.80 L1253.75 821.80 L1253.75 822.30 L1255.25 822.30 L1255.25 821.80 L1257.25 821.80 L1257.25 821.30 L1258.75 821.30 L1258.75 821.80 L1263.25 821.80 L1263.25 825.30ZM1267.75 825.30 L1267.75 823.30 L1271.75 823.30 L1271.75 822.80 L1273.25 822.80 L1273.25 822.30 L1274.75 822.30 L1274.75 822.80 L1283.25 822.80 L1283.25 825.30ZM1286.75 825.30 L1286.75 822.80 L1291.25 822.80 L1291.25 822.30 L1292.75 822.30 L1292.75 822.80 L1294.25 822.80 L1294.25 823.30 L1295.25 823.30 L1295.25 823.80 L1295.75 823.80 L1295.75 823.30 L1296.25 823.30 L1296.25 823.80 L1298.25 823.80 L1298.25 825.30ZM1301.75 825.30 L1301.75 823.30 L1304.25 823.30 L1304.25 822.80 L1308.25 822.80 L1308.25 825.30ZM1334.75 825.30 L1334.75 823.30 L1343.25 823.30 L1343.25 823.80 L1344.25 823.80 L1344.25 825.30ZM1349.75 825.30 L1349.75 822.80 L1351.25 822.80 L1351.25 823.30 L1354.75 823.30 L1354.75 825.30ZM1357.25 825.30 L1357.25 823.30 L1360.25 823.30 L1360.25 823.80 L1361.25 823.80 L1361.25 825.30ZM1369.75 825.30 L1369.75 822.80 L1371.25 822.80 L1371.25 822.30 L1373.25 822.30 L1373.25 821.80 L1375.25 821.80 L1375.25 825.30ZM1376.75 825.30 L1376.75 823.30 L1377.25 823.30 L1377.25 822.80 L1378.25 822.80 L1378.25 823.30 L1378.75 823.30 L1378.75 822.80 L1379.25 822.80 L1379.25 823.30 L1379.75 823.30 L1379.75 822.80 L1381.25 822.80 L1381.25 825.30ZM1385.75 825.30 L1385.75 822.80 L1386.75 822.80 L1386.75 823.30 L1391.25 823.30 L1391.25 825.30ZM1394.75 825.30 L1394.75 822.80 L1401.25 822.80 L1401.25 823.30 L1402.25 823.30 L1402.25 822.80 L1403.25 822.80 L1403.25 825.30ZM1403.75 825.30 L1403.75 821.30 L1404.75 821.30 L1404.75 819.80 L1405.25 819.80 L1405.25 818.30 L1405.75 818.30 L1405.75 817.30 L1406.25 817.30 L1406.25 818.30 L1406.75 818.30 L1406.75 819.80 L1407.25 819.80 L1407.25 821.30 L1409.75 821.30 L1409.75 821.80 L1411.25 821.80 L1411.25 822.30 L1412.75 822.30 L1412.75 822.80 L1415.75 822.80 L1415.75 822.30 L1416.75 822.30 L1416.75 821.80 L1418.75 821.80 L1418.75 822.30 L1419.25 822.30 L1419.25 822.80 L1419.75 822.80 L1419.75 822.30 L1420.75 822.30 L1420.75 821.80 L1421.75 821.80 L1421.75 821.30 L1422.25 821.30 L1422.25 821.80 L1423.25 821.80 L1423.25 822.30 L1424.25 822.30 L1424.25 822.80 L1425.25 822.80 L1425.25 825.30ZM1426.75 825.30 L1426.75 823.80 L1432.25 823.80 L1432.25 825.30ZM1436.75 825.30 L1436.75 823.80 L1439.25 823.80 L1439.25 823.30 L1440.25 823.30 L1440.25 822.80 L1443.75 822.80 L1443.75 823.30 L1445.25 823.30 L1445.25 825.30ZM1446.75 825.30 L1446.75 824.30 L1456.25 824.30 L1456.25 825.30ZM1466.75 825.30 L1466.75 822.80 L1471.75 822.80 L1471.75 823.30 L1474.25 823.30 L1474.25 823.80 L1474.75 823.80 L1474.75 823.30 L1475.25 823.30 L1475.25 825.30ZM1478.75 825.30 L1478.75 822.30 L1479.25 822.30 L1479.25 821.80 L1480.25 821.80 L1480.25 821.30 L1480.75 821.30 L1480.75 820.80 L1481.75 820.80 L1481.75 820.30 L1482.25 820.30 L1482.25 820.80 L1483.25 820.80 L1483.25 821.30 L1483.75 821.30 L1483.75 821.80 L1484.75 821.80 L1484.75 822.30 L1485.25 822.30 L1485.25 822.80 L1486.75 822.80 L1486.75 823.30 L1487.25 823.30 L1487.25 822.80 L1487.75 822.80 L1487.75 823.30 L1490.25 823.30 L1490.25 825.30ZM1490.75 825.30 L1490.75 822.30 L1491.75 822.30 L1491.75 821.80 L1492.75 821.80 L1492.75 821.30 L1494.25 821.30 L1494.25 820.80 L1495.75 820.80 L1495.75 821.30 L1497.25 821.30 L1497.25 821.80 L1503.75 821.80 L1503.75 822.30 L1506.75 822.30 L1506.75 821.80 L1507.75 821.80 L1507.75 821.30 L1509.25 821.30 L1509.25 820.80 L1510.75 820.80 L1510.75 821.30 L1512.25 821.30 L1512.25 821.80 L1516.75 821.80 L1516.75 822.30 L1517.25 822.30 L1517.25 825.30ZM1520.75 825.30 L1520.75 822.80 L1523.25 822.80 L1523.25 822.30 L1525.25 822.30 L1525.25 821.80 L1525.75 821.80 L1525.75 822.30 L1527.75 822.30 L1527.75 821.80 L1528.75 821.80 L1528.75 821.30 L1529.75 821.30 L1529.75 820.80 L1530.75 820.80 L1530.75 820.30 L1531.25 820.30 L1531.25 820.80 L1532.25 820.80 L1532.25 821.30 L1533.25 821.30 L1533.25 821.80 L1534.25 821.80 L1534.25 822.30 L1534.75 822.30 L1534.75 825.30ZM1557.75 825.30 L1557.75 823.30 L1561.25 823.30 L1561.25 822.80 L1562.75 822.80 L1562.75 823.30 L1563.25 823.30 L1563.25 822.80 L1563.75 822.80 L1563.75 823.30 L1565.25 823.30 L1565.25 822.80 L1565.75 822.80 L1565.75 823.30 L1566.25 823.30 L1566.25 825.30ZM1630.75 825.30 L1630.75 824.30 L1631.25 824.30 L1631.25 823.80 L1633.25 823.80 L1633.25 823.30 L1635.25 823.30 L1635.25 825.30ZM1644.75 825.30 L1644.75 823.30 L1645.75 823.30 L1645.75 823.80 L1646.25 823.80 L1646.25 823.30 L1647.25 823.30 L1647.25 823.80 L1650.25 823.80 L1650.25 825.30ZM1658.75 825.30 L1658.75 822.80 L1667.25 822.80 L1667.25 823.30 L1667.75 823.30 L1667.75 825.30ZM1673.75 825.30 L1673.75 823.30 L1674.25 823.30 L1674.25 823.80 L1674.75 823.80 L1674.75 823.30 L1676.75 823.30 L1676.75 823.80 L1681.25 823.80 L1681.25 824.30 L1683.75 824.30 L1683.75 825.30ZM1698.75 825.30 L1698.75 823.80 L1703.25 823.80 L1703.25 825.30ZM1704.75 825.30 L1704.75 823.80 L1707.75 823.80 L1707.75 823.30 L1710.25 823.30 L1710.25 825.30ZM1710.75 825.30 L1710.75 822.30 L1711.25 822.30 L1711.25 821.80 L1712.25 821.80 L1712.25 822.30 L1713.25 822.30 L1713.25 821.80 L1715.25 821.80 L1715.25 822.30 L1717.25 822.30 L1717.25 822.80 L1718.25 822.80 L1718.25 822.30 L1719.75 822.30 L1719.75 825.30ZM1726.25 825.30 L1726.25 823.80 L1728.25 823.80 L1728.25 823.30 L1728.75 823.30 L1728.75 822.80 L1730.25 822.80 L1730.25 822.30 L1731.75 822.30 L1731.75 822.80 L1733.25 822.80 L1733.25 823.30 L1734.25 823.30 L1734.25 822.80 L1734.75 822.80 L1734.75 823.30 L1735.25 823.30 L1735.25 822.80 L1736.25 822.80 L1736.25 825.30ZM1771.75 825.30 L1771.75 823.30 L1773.25 823.30 L1773.25 823.80 L1774.25 823.80 L1774.25 823.30 L1776.75 823.30 L1776.75 822.80 L1778.75 822.80 L1778.75 823.30 L1779.25 823.30 L1779.25 825.30ZM1792.75 825.30 L1792.75 823.80 L1796.75 823.80 L1796.75 823.30 L1799.25 823.30 L1799.25 825.30ZM1799.75 825.30 L1799.75 823.80 L1802.25 823.80 L1802.25 824.30 L1803.25 824.30 L1803.25 823.80 L1805.25 823.80 L1805.25 825.30ZM1860.75 825.30 L1860.75 822.30 L1861.25 822.30 L1861.25 821.80 L1863.25 821.80 L1863.25 822.30 L1865.75 822.30 L1865.75 822.80 L1866.25 822.80 L1866.25 822.30 L1867.75 822.30 L1867.75 822.80 L1869.25 822.80 L1869.25 822.30 L1869.75 822.30 L1869.75 822.80 L1870.75 822.80 L1870.75 822.30 L1871.75 822.30 L1871.75 821.80 L1872.75 821.80 L1872.75 821.30 L1874.25 821.30 L1874.25 825.30ZM1942.75 825.30 L1942.75 819.30 L1943.25 819.30 L1943.25 819.80 L1944.25 819.80 L1944.25 819.30 L1944.75 819.30 L1944.75 819.80 L1945.75 819.80 L1945.75 819.30 L1946.25 819.30 L1946.25 819.80 L1947.25 819.80 L1947.25 820.30 L1947.75 820.30 L1947.75 820.80 L1948.25 820.80 L1948.25 817.80 L1948.75 817.80 L1948.75 812.30 L1949.25 812.30 L1949.25 817.80 L1949.75 817.80 L1949.75 821.80 L1950.25 821.80 L1950.25 825.30ZM1995.75 825.30 L1995.75 822.80 L2003.75 822.80 L2003.75 823.30 L2004.75 823.30 L2004.75 823.80 L2008.25 823.80 L2008.25 825.30ZM2024.75 825.30 L2024.75 823.30 L2034.75 823.30 L2034.75 823.80 L2035.25 823.80 L2035.25 825.30ZM2046.75 825.30 L2046.75 822.30 L2047.75 822.30 L2047.75 822.80 L2049.25 822.80 L2049.25 823.30 L2050.25 823.30 L2050.25 822.80 L2051.25 822.80 L2051.25 823.30 L2051.75 823.30 L2051.75 822.80 L2055.25 822.80 L2055.25 822.30 L2057.25 822.30 L2057.25 825.30ZM2082.75 825.30 L2082.75 823.80 L2084.75 823.80 L2084.75 823.30 L2085.25 823.30 L2085.25 823.80 L2085.75 823.80 L2085.75 823.30 L2086.25 823.30 L2086.25 823.80 L2089.25 823.80 L2089.25 824.30 L2091.25 824.30 L2091.25 823.80 L2092.25 823.80 L2092.25 825.30ZM2099.75 825.30 L2099.75 822.80 L2103.25 822.80 L2103.25 823.30 L2109.75 823.30 L2109.75 822.80 L2110.25 822.80 L2110.25 823.30 L2111.25 823.30 L2111.25 822.80 L2112.75 822.80 L2112.75 825.30ZM2140.75 825.30 L2140.75 822.80 L2143.25 822.80 L2143.25 823.30 L2145.25 823.30 L2145.25 823.80 L2146.25 823.80 L2146.25 823.30 L2147.25 823.30 L2147.25 825.30ZM2158.75 825.30 L2158.75 823.80 L2160.75 823.80 L2160.75 823.30 L2163.75 823.30 L2163.75 825.30ZM2197.75 825.30 L2197.75 823.80 L2202.75 823.80 L2202.75 825.30ZM2209.75 825.30 L2209.75 823.80 L2215.25 823.80 L2215.25 825.30ZM2224.75 825.30 L2224.75 822.80 L2227.75 822.80 L2227.75 823.30 L2228.75 823.30 L2228.75 823.80 L2232.25 823.80 L2232.25 825.30Z" fill="#CC0011"/>
<path d="M1354.40 825.30 L1355.00 820.10 L1356.30 812.30 L1357.00 813.60 L1357.40 823.30 L1357.40 825.30Z" fill="#CC0011"/>
<path d="M1536.20 825.30 L1536.40 720.00 L1537.80 703.00 L1539.00 703.00 L1539.60 730.00 L1541.80 760.00 L1542.90 767.00 L1542.90 825.30Z" fill="#CC0011"/>
<path d="M2239.20 825.30 L2239.20 752.00 L2240.00 747.00 L2241.00 752.00 L2242.00 746.00 L2242.70 748.00 L2242.90 768.30 L2245.60 768.30 L2245.60 825.30Z" fill="#CC0011"/>
<path d="M2333.60 825.30 L2333.60 768.30 L2335.60 768.30 L2336.50 766.00 L2337.50 769.00 L2338.50 766.00 L2339.70 767.00 L2339.70 825.30Z" fill="#CC0011"/>
<rect x="402" y="825" width="1937.5" height="1" fill="rgb(240, 187, 192)"/>
<path d="M402 724.5 C402 675.9 2239.4 698.4 2239.4 747" fill="none" stroke="#CC0011" stroke-width="1" stroke-opacity="0.55"/>
<rect x="397.7" y="645.80" width="4.3" height="181.60" fill="#000"/>
<rect x="380.3" y="823.20" width="21.7" height="4.2" fill="#000"/>
<rect x="380.3" y="778.85" width="21.7" height="4.2" fill="#000"/>
<rect x="380.3" y="734.50" width="21.7" height="4.2" fill="#000"/>
<rect x="380.3" y="690.15" width="21.7" height="4.2" fill="#000"/>
<rect x="380.3" y="645.80" width="21.7" height="4.2" fill="#000"/>
<rect x="402.1" y="1019.70" width="0.9" height="117.50" fill="#FF8800" opacity="0.35"/>
<path d="M401.75 1137.20 L401.75 1133.70 L402.75 1133.70 L402.75 1133.20 L403.25 1133.20 L403.25 1133.70 L404.25 1133.70 L404.25 1134.20 L405.25 1134.20 L405.25 1134.70 L406.75 1134.70 L406.75 1135.20 L407.25 1135.20 L407.25 1137.20ZM408.75 1137.20 L408.75 1136.20 L414.75 1136.20 L414.75 1137.20ZM418.75 1137.20 L418.75 1136.20 L432.25 1136.20 L432.25 1137.20ZM438.75 1137.20 L438.75 1135.20 L439.25 1135.20 L439.25 1134.70 L439.75 1134.70 L439.75 1135.20 L441.75 1135.20 L441.75 1134.70 L442.25 1134.70 L442.25 1135.20 L443.75 1135.20 L443.75 1134.70 L444.25 1134.70 L444.25 1135.20 L447.25 1135.20 L447.25 1134.70 L454.25 1134.70 L454.25 1134.20 L455.75 1134.20 L455.75 1134.70 L457.25 1134.70 L457.25 1135.20 L461.75 1135.20 L461.75 1135.70 L462.75 1135.70 L462.75 1135.20 L463.25 1135.20 L463.25 1135.70 L463.75 1135.70 L463.75 1135.20 L464.25 1135.20 L464.25 1135.70 L467.25 1135.70 L467.25 1135.20 L468.25 1135.20 L468.25 1134.70 L473.25 1134.70 L473.25 1137.20ZM477.75 1137.20 L477.75 1136.20 L520.25 1136.20 L520.25 1137.20ZM523.75 1137.20 L523.75 1135.70 L525.75 1135.70 L525.75 1135.20 L527.25 1135.20 L527.25 1135.70 L529.25 1135.70 L529.25 1125.20 L532.75 1125.20 L532.75 1131.70 L540.75 1131.70 L540.75 1137.20ZM542.25 1137.20 L542.25 1135.20 L542.75 1135.20 L542.75 1134.70 L543.75 1134.70 L543.75 1134.20 L544.75 1134.20 L544.75 1133.70 L545.75 1133.70 L545.75 1133.20 L546.25 1133.20 L546.25 1133.70 L547.25 1133.70 L547.25 1134.20 L548.25 1134.20 L548.25 1134.70 L549.25 1134.70 L549.25 1135.20 L550.25 1135.20 L550.25 1137.20ZM551.75 1137.20 L551.75 1135.20 L555.25 1135.20 L555.25 1134.70 L556.75 1134.70 L556.75 1134.20 L557.25 1134.20 L557.25 1134.70 L557.75 1134.70 L557.75 1134.20 L558.25 1134.20 L558.25 1134.70 L558.75 1134.70 L558.75 1134.20 L561.75 1134.20 L561.75 1134.70 L562.75 1134.70 L562.75 1134.20 L564.25 1134.20 L564.25 1133.70 L565.25 1133.70 L565.25 1133.20 L566.75 1133.20 L566.75 1133.70 L567.75 1133.70 L567.75 1134.20 L569.25 1134.20 L569.25 1133.70 L570.25 1133.70 L570.25 1133.20 L571.25 1133.20 L571.25 1132.70 L572.75 1132.70 L572.75 1133.20 L573.75 1133.20 L573.75 1133.70 L574.75 1133.70 L574.75 1134.20 L589.25 1134.20 L589.25 1133.70 L590.75 1133.70 L590.75 1134.20 L592.25 1134.20 L592.25 1134.70 L595.25 1134.70 L595.25 1134.20 L598.25 1134.20 L598.25 1133.70 L598.75 1133.70 L598.75 1134.20 L600.75 1134.20 L600.75 1134.70 L602.25 1134.70 L602.25 1137.20ZM605.25 1137.20 L605.25 1134.20 L610.75 1134.20 L610.75 1133.70 L611.25 1133.70 L611.25 1134.20 L615.75 1134.20 L615.75 1134.70 L616.75 1134.70 L616.75 1134.20 L618.25 1134.20 L618.25 1133.70 L619.25 1133.70 L619.25 1133.20 L620.75 1133.20 L620.75 1133.70 L621.75 1133.70 L621.75 1134.20 L625.25 1134.20 L625.25 1134.70 L626.25 1134.70 L626.25 1134.20 L629.25 1134.20 L629.25 1133.70 L630.75 1133.70 L630.75 1134.20 L634.25 1134.20 L634.25 1134.70 L634.75 1134.70 L634.75 1134.20 L635.25 1134.20 L635.25 1134.70 L637.25 1134.70 L637.25 1134.20 L638.25 1134.20 L638.25 1134.70 L638.75 1134.70 L638.75 1134.20 L641.25 1134.20 L641.25 1133.70 L642.75 1133.70 L642.75 1134.20 L645.75 1134.20 L645.75 1134.70 L646.75 1134.70 L646.75 1134.20 L647.25 1134.20 L647.25 1134.70 L651.25 1134.70 L651.25 1134.20 L652.25 1134.20 L652.25 1133.70 L653.25 1133.70 L653.25 1133.20 L654.25 1133.20 L654.25 1132.70 L655.75 1132.70 L655.75 1133.20 L656.75 1133.20 L656.75 1133.70 L657.75 1133.70 L657.75 1134.20 L658.25 1134.20 L658.25 1133.70 L658.75 1133.70 L658.75 1134.20 L659.75 1134.20 L659.75 1134.70 L661.75 1134.70 L661.75 1135.20 L662.25 1135.20 L662.25 1134.70 L662.75 1134.70 L662.75 1134.20 L664.25 1134.20 L664.25 1133.70 L665.25 1133.70 L665.25 1133.20 L666.75 1133.20 L666.75 1133.70 L667.75 1133.70 L667.75 1134.20 L673.75 1134.20 L673.75 1133.70 L674.25 1133.70 L674.25 1134.20 L676.25 1134.20 L676.25 1134.70 L680.25 1134.70 L680.25 1135.20 L681.25 1135.20 L681.25 1134.70 L684.75 1134.70 L684.75 1134.20 L689.25 1134.20 L689.25 1133.70 L690.25 1133.70 L690.25 1134.20 L693.25 1134.20 L693.25 1133.70 L694.25 1133.70 L694.25 1133.20 L694.75 1133.20 L694.75 1132.70 L695.75 1132.70 L695.75 1132.20 L696.75 1132.20 L696.75 1131.70 L697.25 1131.70 L697.25 1132.20 L698.25 1132.20 L698.25 1132.70 L699.25 1132.70 L699.25 1133.20 L699.75 1133.20 L699.75 1133.70 L700.75 1133.70 L700.75 1134.20 L702.25 1134.20 L702.25 1134.70 L703.25 1134.70 L703.25 1134.20 L703.75 1134.20 L703.75 1134.70 L704.75 1134.70 L704.75 1135.20 L705.25 1135.20 L705.25 1134.70 L706.25 1134.70 L706.25 1135.20 L706.75 1135.20 L706.75 1134.70 L707.25 1134.70 L707.25 1135.20 L707.75 1135.20 L707.75 1134.70 L711.75 1134.70 L711.75 1135.20 L715.25 1135.20 L715.25 1134.70 L720.75 1134.70 L720.75 1135.20 L721.75 1135.20 L721.75 1134.70 L722.25 1134.70 L722.25 1135.20 L722.75 1135.20 L722.75 1134.70 L723.25 1134.70 L723.25 1135.20 L725.75 1135.20 L725.75 1134.20 L726.75 1134.20 L726.75 1133.70 L727.75 1133.70 L727.75 1133.20 L728.75 1133.20 L728.75 1132.70 L729.75 1132.70 L729.75 1132.20 L730.25 1132.20 L730.25 1132.70 L731.25 1132.70 L731.25 1133.20 L732.25 1133.20 L732.25 1133.70 L733.25 1133.70 L733.25 1134.20 L734.25 1134.20 L734.25 1135.20 L743.25 1135.20 L743.25 1134.70 L743.75 1134.70 L743.75 1135.20 L744.25 1135.20 L744.25 1134.70 L752.75 1134.70 L752.75 1134.20 L756.25 1134.20 L756.25 1134.70 L760.25 1134.70 L760.25 1135.20 L760.75 1135.20 L760.75 1134.70 L761.75 1134.70 L761.75 1135.20 L765.25 1135.20 L765.25 1134.70 L765.75 1134.70 L765.75 1135.20 L767.75 1135.20 L767.75 1134.70 L771.75 1134.70 L771.75 1134.20 L775.75 1134.20 L775.75 1134.70 L777.25 1134.70 L777.25 1135.20 L778.25 1135.20 L778.25 1134.70 L778.75 1134.70 L778.75 1135.20 L779.25 1135.20 L779.25 1134.70 L783.25 1134.70 L783.25 1134.20 L783.75 1134.20 L783.75 1134.70 L784.25 1134.70 L784.25 1134.20 L792.75 1134.20 L792.75 1134.70 L795.25 1134.70 L795.25 1134.20 L796.25 1134.20 L796.25 1133.70 L797.25 1133.70 L797.25 1133.20 L798.25 1133.20 L798.25 1132.70 L799.75 1132.70 L799.75 1133.20 L800.75 1133.20 L800.75 1133.70 L801.75 1133.70 L801.75 1134.20 L803.75 1134.20 L803.75 1133.70 L804.75 1133.70 L804.75 1133.20 L805.25 1133.20 L805.25 1132.70 L806.25 1132.70 L806.25 1132.20 L806.75 1132.20 L806.75 1131.70 L807.75 1131.70 L807.75 1131.20 L808.25 1131.20 L808.25 1131.70 L809.25 1131.70 L809.25 1132.20 L809.75 1132.20 L809.75 1132.70 L810.75 1132.70 L810.75 1133.20 L811.25 1133.20 L811.25 1133.70 L812.25 1133.70 L812.25 1134.20 L813.25 1134.20 L813.25 1135.20 L814.75 1135.20 L814.75 1134.70 L816.25 1134.70 L816.25 1137.20ZM818.75 1137.20 L818.75 1133.20 L819.75 1133.20 L819.75 1132.70 L821.25 1132.70 L821.25 1132.20 L822.75 1132.20 L822.75 1132.70 L824.25 1132.70 L824.25 1133.20 L825.25 1133.20 L825.25 1132.70 L826.75 1132.70 L826.75 1132.20 L827.75 1132.20 L827.75 1131.70 L828.75 1131.70 L828.75 1131.20 L829.75 1131.20 L829.75 1130.70 L830.25 1130.70 L830.25 1131.20 L831.25 1131.20 L831.25 1131.70 L832.25 1131.70 L832.25 1132.20 L833.25 1132.20 L833.25 1132.70 L834.25 1132.70 L834.25 1137.20ZM834.75 1137.20 L834.75 1134.70 L836.75 1134.70 L836.75 1135.20 L840.25 1135.20 L840.25 1135.70 L844.75 1135.70 L844.75 1135.20 L846.25 1135.20 L846.25 1135.70 L846.75 1135.70 L846.75 1135.20 L847.75 1135.20 L847.75 1135.70 L848.25 1135.70 L848.25 1135.20 L849.75 1135.20 L849.75 1135.70 L850.75 1135.70 L850.75 1135.20 L853.25 1135.20 L853.25 1134.70 L874.25 1134.70 L874.25 1135.20 L874.75 1135.20 L874.75 1134.70 L875.25 1134.70 L875.25 1135.20 L875.75 1135.20 L875.75 1134.70 L876.25 1134.70 L876.25 1135.20 L879.75 1135.20 L879.75 1134.70 L883.75 1134.70 L883.75 1135.20 L884.25 1135.20 L884.25 1134.70 L885.25 1134.70 L885.25 1134.20 L885.75 1134.20 L885.75 1133.70 L886.75 1133.70 L886.75 1133.20 L887.75 1133.20 L887.75 1132.70 L888.25 1132.70 L888.25 1133.20 L889.25 1133.20 L889.25 1133.70 L890.25 1133.70 L890.25 1134.20 L890.75 1134.20 L890.75 1134.70 L899.25 1134.70 L899.25 1135.20 L900.75 1135.20 L900.75 1135.70 L901.25 1135.70 L901.25 1137.20ZM902.75 1137.20 L902.75 1133.70 L903.25 1133.70 L903.25 1133.20 L903.75 1133.20 L903.75 1132.70 L904.25 1132.70 L904.25 1132.20 L904.75 1132.20 L904.75 1131.70 L905.75 1131.70 L905.75 1131.20 L906.25 1131.20 L906.25 1130.70 L906.75 1130.70 L906.75 1130.20 L907.25 1130.20 L907.25 1129.70 L907.75 1129.70 L907.75 1130.20 L908.75 1130.20 L908.75 1130.70 L909.25 1130.70 L909.25 1131.20 L909.75 1131.20 L909.75 1131.70 L910.25 1131.70 L910.25 1132.20 L910.75 1132.20 L910.75 1132.70 L911.75 1132.70 L911.75 1133.20 L912.25 1133.20 L912.25 1133.70 L912.75 1133.70 L912.75 1134.20 L913.25 1134.20 L913.25 1134.70 L913.75 1134.70 L913.75 1135.20 L916.25 1135.20 L916.25 1134.70 L917.75 1134.70 L917.75 1134.20 L921.25 1134.20 L921.25 1134.70 L922.25 1134.70 L922.25 1134.20 L922.75 1134.20 L922.75 1134.70 L923.25 1134.70 L923.25 1137.20ZM923.75 1137.20 L923.75 1133.70 L924.75 1133.70 L924.75 1133.20 L925.25 1133.20 L925.25 1133.70 L926.25 1133.70 L926.25 1133.20 L929.25 1133.20 L929.25 1132.70 L930.75 1132.70 L930.75 1137.20ZM931.75 1137.20 L931.75 1132.70 L933.75 1132.70 L933.75 1132.20 L934.25 1132.20 L934.25 1132.70 L934.75 1132.70 L934.75 1132.20 L936.25 1132.20 L936.25 1132.70 L937.75 1132.70 L937.75 1133.20 L939.25 1133.20 L939.25 1133.70 L939.75 1133.70 L939.75 1134.20 L942.75 1134.20 L942.75 1133.70 L943.25 1133.70 L943.25 1133.20 L944.25 1133.20 L944.25 1132.70 L945.25 1132.70 L945.25 1132.20 L946.25 1132.20 L946.25 1131.70 L947.25 1131.70 L947.25 1131.20 L948.75 1131.20 L948.75 1131.70 L949.75 1131.70 L949.75 1132.20 L950.75 1132.20 L950.75 1132.70 L951.75 1132.70 L951.75 1133.20 L952.75 1133.20 L952.75 1133.70 L953.25 1133.70 L953.25 1137.20ZM957.75 1137.20 L957.75 1135.70 L963.75 1135.70 L963.75 1135.20 L966.25 1135.20 L966.25 1134.70 L966.75 1134.70 L966.75 1135.20 L975.25 1135.20 L975.25 1134.70 L979.25 1134.70 L979.25 1134.20 L979.75 1134.20 L979.75 1133.70 L980.25 1133.70 L980.25 1133.20 L981.25 1133.20 L981.25 1132.70 L981.75 1132.70 L981.75 1132.20 L982.25 1132.20 L982.25 1131.70 L983.25 1131.70 L983.25 1131.20 L983.75 1131.20 L983.75 1130.70 L984.25 1130.70 L984.25 1131.20 L984.75 1131.20 L984.75 1131.70 L985.75 1131.70 L985.75 1132.20 L986.25 1132.20 L986.25 1132.70 L986.75 1132.70 L986.75 1133.20 L987.75 1133.20 L987.75 1133.70 L988.25 1133.70 L988.25 1136.20 L1006.75 1136.20 L1006.75 1135.70 L1007.75 1135.70 L1007.75 1135.20 L1015.25 1135.20 L1015.25 1134.70 L1015.75 1134.70 L1015.75 1135.20 L1016.25 1135.20 L1016.25 1134.70 L1016.75 1134.70 L1016.75 1135.20 L1017.75 1135.20 L1017.75 1134.70 L1019.25 1134.70 L1019.25 1134.20 L1020.75 1134.20 L1020.75 1134.70 L1022.25 1134.70 L1022.25 1135.20 L1027.75 1135.20 L1027.75 1134.70 L1044.75 1134.70 L1044.75 1135.20 L1048.75 1135.20 L1048.75 1135.70 L1051.25 1135.70 L1051.25 1135.20 L1053.25 1135.20 L1053.25 1134.70 L1054.75 1134.70 L1054.75 1135.20 L1056.75 1135.20 L1056.75 1135.70 L1059.25 1135.70 L1059.25 1135.20 L1060.75 1135.20 L1060.75 1134.70 L1064.25 1134.70 L1064.25 1135.20 L1065.25 1135.20 L1065.25 1134.70 L1066.75 1134.70 L1066.75 1135.20 L1071.25 1135.20 L1071.25 1135.70 L1072.25 1135.70 L1072.25 1135.20 L1072.75 1135.20 L1072.75 1134.70 L1073.75 1134.70 L1073.75 1134.20 L1074.75 1134.20 L1074.75 1133.70 L1075.75 1133.70 L1075.75 1133.20 L1076.25 1133.20 L1076.25 1133.70 L1077.25 1133.70 L1077.25 1134.20 L1078.25 1134.20 L1078.25 1134.70 L1079.25 1134.70 L1079.25 1135.20 L1079.75 1135.20 L1079.75 1135.70 L1080.25 1135.70 L1080.25 1135.20 L1080.75 1135.20 L1080.75 1135.70 L1081.75 1135.70 L1081.75 1135.20 L1082.25 1135.20 L1082.25 1135.70 L1082.75 1135.70 L1082.75 1135.20 L1083.75 1135.20 L1083.75 1134.70 L1088.25 1134.70 L1088.25 1135.20 L1089.75 1135.20 L1089.75 1135.70 L1090.25 1135.70 L1090.25 1135.20 L1092.75 1135.20 L1092.75 1134.70 L1093.75 1134.70 L1093.75 1134.20 L1094.75 1134.20 L1094.75 1133.70 L1095.75 1133.70 L1095.75 1133.20 L1096.25 1133.20 L1096.25 1133.70 L1097.25 1133.70 L1097.25 1134.20 L1098.25 1134.20 L1098.25 1134.70 L1099.25 1134.70 L1099.25 1135.20 L1111.75 1135.20 L1111.75 1134.70 L1115.75 1134.70 L1115.75 1135.20 L1124.75 1135.20 L1124.75 1135.70 L1126.75 1135.70 L1126.75 1135.20 L1127.25 1135.20 L1127.25 1134.70 L1128.25 1134.70 L1128.25 1134.20 L1129.25 1134.20 L1129.25 1133.70 L1130.75 1133.70 L1130.75 1134.20 L1131.75 1134.20 L1131.75 1134.70 L1134.75 1134.70 L1134.75 1135.20 L1144.25 1135.20 L1144.25 1134.70 L1146.75 1134.70 L1146.75 1135.20 L1148.75 1135.20 L1148.75 1135.70 L1150.25 1135.70 L1150.25 1135.20 L1150.75 1135.20 L1150.75 1134.70 L1152.25 1134.70 L1152.25 1134.20 L1153.75 1134.20 L1153.75 1134.70 L1155.25 1134.70 L1155.25 1135.20 L1157.25 1135.20 L1157.25 1134.70 L1161.25 1134.70 L1161.25 1134.20 L1161.75 1134.20 L1161.75 1134.70 L1164.25 1134.70 L1164.25 1134.20 L1165.25 1134.20 L1165.25 1133.70 L1166.75 1133.70 L1166.75 1134.20 L1167.75 1134.20 L1167.75 1134.70 L1168.75 1134.70 L1168.75 1135.20 L1171.75 1135.20 L1171.75 1134.70 L1173.25 1134.70 L1173.25 1134.20 L1173.75 1134.20 L1173.75 1134.70 L1181.75 1134.70 L1181.75 1134.20 L1182.25 1134.20 L1182.25 1134.70 L1184.25 1134.70 L1184.25 1135.20 L1186.75 1135.20 L1186.75 1134.70 L1191.75 1134.70 L1191.75 1135.20 L1192.75 1135.20 L1192.75 1135.70 L1195.75 1135.70 L1195.75 1135.20 L1199.25 1135.20 L1199.25 1134.70 L1204.25 1134.70 L1204.25 1134.20 L1204.75 1134.20 L1204.75 1133.70 L1205.75 1133.70 L1205.75 1133.20 L1206.75 1133.20 L1206.75 1132.70 L1207.25 1132.70 L1207.25 1133.20 L1208.25 1133.20 L1208.25 1133.70 L1209.25 1133.70 L1209.25 1134.20 L1209.75 1134.20 L1209.75 1134.70 L1210.75 1134.70 L1210.75 1135.20 L1215.25 1135.20 L1215.25 1137.20ZM1217.75 1137.20 L1217.75 1134.20 L1219.75 1134.20 L1219.75 1133.70 L1221.25 1133.70 L1221.25 1133.20 L1221.75 1133.20 L1221.75 1133.70 L1224.25 1133.70 L1224.25 1137.20ZM1227.75 1137.20 L1227.75 1134.70 L1229.25 1134.70 L1229.25 1135.20 L1230.75 1135.20 L1230.75 1134.20 L1231.75 1134.20 L1231.75 1133.70 L1232.75 1133.70 L1232.75 1133.20 L1233.25 1133.20 L1233.25 1132.70 L1234.25 1132.70 L1234.25 1132.20 L1234.75 1132.20 L1234.75 1131.70 L1235.75 1131.70 L1235.75 1131.20 L1236.25 1131.20 L1236.25 1131.70 L1237.25 1131.70 L1237.25 1132.20 L1237.75 1132.20 L1237.75 1132.70 L1238.75 1132.70 L1238.75 1133.20 L1239.25 1133.20 L1239.25 1133.70 L1240.25 1133.70 L1240.25 1134.20 L1245.75 1134.20 L1245.75 1137.20ZM1247.25 1137.20 L1247.25 1135.20 L1249.25 1135.20 L1249.25 1135.70 L1249.75 1135.70 L1249.75 1135.20 L1250.25 1135.20 L1250.25 1135.70 L1250.75 1135.70 L1250.75 1135.20 L1252.25 1135.20 L1252.25 1137.20ZM1253.75 1137.20 L1253.75 1133.70 L1255.25 1133.70 L1255.25 1133.20 L1256.25 1133.20 L1256.25 1132.70 L1257.75 1132.70 L1257.75 1133.20 L1258.75 1133.20 L1258.75 1133.70 L1259.75 1133.70 L1259.75 1134.20 L1262.75 1134.20 L1262.75 1134.70 L1265.75 1134.70 L1265.75 1135.20 L1271.25 1135.20 L1271.25 1134.70 L1272.25 1134.70 L1272.25 1137.20ZM1272.75 1137.20 L1272.75 1134.20 L1276.25 1134.20 L1276.25 1133.70 L1277.75 1133.70 L1277.75 1134.20 L1280.25 1134.20 L1280.25 1133.70 L1281.25 1133.70 L1281.25 1134.20 L1282.25 1134.20 L1282.25 1133.70 L1282.75 1133.70 L1282.75 1134.20 L1284.25 1134.20 L1284.25 1134.70 L1288.25 1134.70 L1288.25 1134.20 L1292.75 1134.20 L1292.75 1133.70 L1293.25 1133.70 L1293.25 1134.20 L1293.75 1134.20 L1293.75 1133.70 L1294.25 1133.70 L1294.25 1134.20 L1295.75 1134.20 L1295.75 1134.70 L1297.75 1134.70 L1297.75 1135.20 L1300.25 1135.20 L1300.25 1137.20ZM1301.75 1137.20 L1301.75 1135.70 L1306.75 1135.70 L1306.75 1135.20 L1307.25 1135.20 L1307.25 1135.70 L1307.75 1135.70 L1307.75 1135.20 L1308.25 1135.20 L1308.25 1135.70 L1309.25 1135.70 L1309.25 1137.20ZM1311.75 1137.20 L1311.75 1133.70 L1312.75 1133.70 L1312.75 1133.20 L1313.25 1133.20 L1313.25 1132.70 L1314.25 1132.70 L1314.25 1132.20 L1314.75 1132.20 L1314.75 1131.70 L1315.75 1131.70 L1315.75 1131.20 L1316.25 1131.20 L1316.25 1131.70 L1317.25 1131.70 L1317.25 1132.20 L1317.75 1132.20 L1317.75 1132.70 L1318.75 1132.70 L1318.75 1133.20 L1319.25 1133.20 L1319.25 1133.70 L1320.25 1133.70 L1320.25 1134.20 L1326.75 1134.20 L1326.75 1137.20ZM1328.25 1137.20 L1328.25 1136.20 L1332.75 1136.20 L1332.75 1137.20ZM1335.75 1137.20 L1335.75 1134.20 L1337.25 1134.20 L1337.25 1134.70 L1339.75 1134.70 L1339.75 1134.20 L1342.75 1134.20 L1342.75 1133.70 L1343.75 1133.70 L1343.75 1134.20 L1346.75 1134.20 L1346.75 1134.70 L1349.75 1134.70 L1349.75 1135.20 L1350.25 1135.20 L1350.25 1134.70 L1350.75 1134.70 L1350.75 1135.20 L1351.25 1135.20 L1351.25 1134.70 L1353.25 1134.70 L1353.25 1134.20 L1354.25 1134.20 L1354.25 1134.70 L1355.25 1134.70 L1355.25 1137.20ZM1356.75 1137.20 L1356.75 1135.20 L1357.25 1135.20 L1357.25 1135.70 L1358.75 1135.70 L1358.75 1135.20 L1359.25 1135.20 L1359.25 1135.70 L1359.75 1135.70 L1359.75 1135.20 L1361.25 1135.20 L1361.25 1137.20ZM1365.75 1137.20 L1365.75 1134.20 L1367.25 1134.20 L1367.25 1134.70 L1368.75 1134.70 L1368.75 1135.20 L1371.75 1135.20 L1371.75 1134.70 L1381.75 1134.70 L1381.75 1134.20 L1383.25 1134.20 L1383.25 1133.70 L1384.25 1133.70 L1384.25 1133.20 L1385.75 1133.20 L1385.75 1133.70 L1386.75 1133.70 L1386.75 1134.20 L1388.25 1134.20 L1388.25 1134.70 L1395.25 1134.70 L1395.25 1135.20 L1395.75 1135.20 L1395.75 1134.70 L1396.25 1134.70 L1396.25 1135.20 L1398.75 1135.20 L1398.75 1132.20 L1402.25 1132.20 L1402.25 1131.70 L1403.75 1131.70 L1403.75 1131.20 L1405.25 1131.20 L1405.25 1130.70 L1406.75 1130.70 L1406.75 1130.20 L1408.25 1130.20 L1408.25 1130.70 L1409.75 1130.70 L1409.75 1131.20 L1411.25 1131.20 L1411.25 1131.70 L1411.75 1131.70 L1411.75 1131.20 L1412.75 1131.20 L1412.75 1130.70 L1413.75 1130.70 L1413.75 1130.20 L1414.75 1130.20 L1414.75 1129.70 L1415.75 1129.70 L1415.75 1129.20 L1416.75 1129.20 L1416.75 1129.70 L1417.75 1129.70 L1417.75 1130.20 L1418.75 1130.20 L1418.75 1130.70 L1419.75 1130.70 L1419.75 1131.20 L1421.25 1131.20 L1421.25 1130.70 L1422.25 1130.70 L1422.25 1130.20 L1423.75 1130.20 L1423.75 1129.70 L1424.75 1129.70 L1424.75 1130.20 L1426.25 1130.20 L1426.25 1130.70 L1427.25 1130.70 L1427.25 1131.20 L1428.25 1131.20 L1428.25 1131.70 L1429.75 1131.70 L1429.75 1132.20 L1431.25 1132.20 L1431.25 1137.20ZM1434.75 1137.20 L1434.75 1134.70 L1438.75 1134.70 L1438.75 1135.20 L1439.25 1135.20 L1439.25 1134.70 L1440.25 1134.70 L1440.25 1134.20 L1441.25 1134.20 L1441.25 1133.70 L1442.75 1133.70 L1442.75 1134.20 L1443.75 1134.20 L1443.75 1134.70 L1444.75 1134.70 L1444.75 1135.20 L1447.25 1135.20 L1447.25 1137.20ZM1458.75 1137.20 L1458.75 1135.20 L1459.25 1135.20 L1459.25 1135.70 L1459.75 1135.70 L1459.75 1135.20 L1460.75 1135.20 L1460.75 1135.70 L1461.25 1135.70 L1461.25 1135.20 L1462.75 1135.20 L1462.75 1135.70 L1464.25 1135.70 L1464.25 1137.20ZM1470.25 1137.20 L1470.25 1136.20 L1475.75 1136.20 L1475.75 1137.20ZM1477.75 1137.20 L1477.75 1133.70 L1478.25 1133.70 L1478.25 1133.20 L1479.75 1133.20 L1479.75 1132.70 L1480.75 1132.70 L1480.75 1132.20 L1484.25 1132.20 L1484.25 1132.70 L1486.25 1132.70 L1486.25 1133.20 L1487.25 1133.20 L1487.25 1134.20 L1491.25 1134.20 L1491.25 1133.70 L1491.75 1133.70 L1491.75 1133.20 L1492.25 1133.20 L1492.25 1132.70 L1493.25 1132.70 L1493.25 1132.20 L1494.75 1132.20 L1494.75 1131.70 L1495.75 1131.70 L1495.75 1131.20 L1496.75 1131.20 L1496.75 1130.70 L1498.25 1130.70 L1498.25 1131.20 L1499.25 1131.20 L1499.25 1131.70 L1500.25 1131.70 L1500.25 1132.20 L1501.75 1132.20 L1501.75 1132.70 L1504.25 1132.70 L1504.25 1132.20 L1504.75 1132.20 L1504.75 1132.70 L1505.25 1132.70 L1505.25 1132.20 L1506.75 1132.20 L1506.75 1132.70 L1507.25 1132.70 L1507.25 1133.20 L1508.25 1133.20 L1508.25 1133.70 L1509.25 1133.70 L1509.25 1134.20 L1509.75 1134.20 L1509.75 1133.20 L1510.25 1133.20 L1510.25 1132.70 L1511.75 1132.70 L1511.75 1132.20 L1512.75 1132.20 L1512.75 1131.70 L1514.25 1131.70 L1514.25 1131.20 L1515.75 1131.20 L1515.75 1131.70 L1517.25 1131.70 L1517.25 1132.20 L1518.25 1132.20 L1518.25 1132.70 L1520.75 1132.70 L1520.75 1132.20 L1530.75 1132.20 L1530.75 1131.70 L1532.25 1131.70 L1532.25 1131.20 L1533.75 1131.20 L1533.75 1131.70 L1535.25 1131.70 L1535.25 1132.20 L1536.25 1132.20 L1536.25 1137.20ZM1542.75 1137.20 L1542.75 1136.20 L1548.25 1136.20 L1548.25 1137.20ZM1549.75 1137.20 L1549.75 1135.70 L1559.25 1135.70 L1559.25 1135.20 L1563.75 1135.20 L1563.75 1135.70 L1571.25 1135.70 L1571.25 1137.20ZM1577.75 1137.20 L1577.75 1134.70 L1584.25 1134.70 L1584.25 1137.20ZM1603.75 1137.20 L1603.75 1135.20 L1604.25 1135.20 L1604.25 1134.70 L1604.75 1134.70 L1604.75 1135.20 L1605.25 1135.20 L1605.25 1134.70 L1607.25 1134.70 L1607.25 1134.20 L1608.75 1134.20 L1608.75 1134.70 L1609.75 1134.70 L1609.75 1134.20 L1610.25 1134.20 L1610.25 1134.70 L1611.75 1134.70 L1611.75 1135.20 L1613.25 1135.20 L1613.25 1137.20ZM1622.75 1137.20 L1622.75 1134.70 L1624.25 1134.70 L1624.25 1135.20 L1632.25 1135.20 L1632.25 1134.70 L1633.25 1134.70 L1633.25 1134.20 L1634.25 1134.20 L1634.25 1133.70 L1635.75 1133.70 L1635.75 1134.20 L1636.75 1134.20 L1636.75 1134.70 L1639.75 1134.70 L1639.75 1137.20ZM1642.25 1137.20 L1642.25 1135.70 L1644.75 1135.70 L1644.75 1135.20 L1647.25 1135.20 L1647.25 1137.20ZM1649.75 1137.20 L1649.75 1135.70 L1654.25 1135.70 L1654.25 1137.20ZM1660.75 1137.20 L1660.75 1135.20 L1666.25 1135.20 L1666.25 1137.20ZM1676.75 1137.20 L1676.75 1135.20 L1679.25 1135.20 L1679.25 1135.70 L1682.25 1135.70 L1682.25 1137.20ZM1683.75 1137.20 L1683.75 1135.70 L1688.25 1135.70 L1688.25 1137.20ZM1691.75 1137.20 L1691.75 1134.20 L1692.25 1134.20 L1692.25 1134.70 L1695.75 1134.70 L1695.75 1134.20 L1696.75 1134.20 L1696.75 1133.70 L1698.75 1133.70 L1698.75 1134.20 L1699.25 1134.20 L1699.25 1133.70 L1699.75 1133.70 L1699.75 1134.20 L1700.25 1134.20 L1700.25 1133.70 L1700.75 1133.70 L1700.75 1134.20 L1705.25 1134.20 L1705.25 1134.70 L1705.75 1134.70 L1705.75 1134.20 L1706.25 1134.20 L1706.25 1134.70 L1707.75 1134.70 L1707.75 1134.20 L1710.25 1134.20 L1710.25 1134.70 L1713.75 1134.70 L1713.75 1134.20 L1714.75 1134.20 L1714.75 1137.20ZM1717.75 1137.20 L1717.75 1135.20 L1718.75 1135.20 L1718.75 1134.70 L1719.25 1134.70 L1719.25 1135.20 L1723.25 1135.20 L1723.25 1134.70 L1728.25 1134.70 L1728.25 1135.20 L1730.25 1135.20 L1730.25 1137.20ZM1738.75 1137.20 L1738.75 1135.70 L1741.25 1135.70 L1741.25 1136.20 L1741.75 1136.20 L1741.75 1135.70 L1743.25 1135.70 L1743.25 1137.20ZM1749.75 1137.20 L1749.75 1135.20 L1750.25 1135.20 L1750.25 1135.70 L1750.75 1135.70 L1750.75 1135.20 L1752.75 1135.20 L1752.75 1134.70 L1755.25 1134.70 L1755.25 1137.20ZM1760.75 1137.20 L1760.75 1135.20 L1761.25 1135.20 L1761.25 1135.70 L1763.75 1135.70 L1763.75 1135.20 L1764.25 1135.20 L1764.25 1135.70 L1765.25 1135.70 L1765.25 1135.20 L1765.75 1135.20 L1765.75 1135.70 L1766.25 1135.70 L1766.25 1135.20 L1769.25 1135.20 L1769.25 1137.20ZM1772.75 1137.20 L1772.75 1135.70 L1777.75 1135.70 L1777.75 1137.20ZM1781.75 1137.20 L1781.75 1135.20 L1782.25 1135.20 L1782.25 1135.70 L1782.75 1135.70 L1782.75 1135.20 L1783.25 1135.20 L1783.25 1135.70 L1787.25 1135.70 L1787.25 1137.20ZM1792.75 1137.20 L1792.75 1135.20 L1794.75 1135.20 L1794.75 1134.70 L1803.75 1134.70 L1803.75 1135.20 L1804.75 1135.20 L1804.75 1135.70 L1806.75 1135.70 L1806.75 1137.20ZM1816.75 1137.20 L1816.75 1134.70 L1820.25 1134.70 L1820.25 1135.20 L1823.75 1135.20 L1823.75 1135.70 L1824.25 1135.70 L1824.25 1135.20 L1824.75 1135.20 L1824.75 1137.20ZM1837.75 1137.20 L1837.75 1135.70 L1840.75 1135.70 L1840.75 1135.20 L1842.25 1135.20 L1842.25 1137.20ZM1850.75 1137.20 L1850.75 1134.20 L1851.25 1134.20 L1851.25 1134.70 L1852.75 1134.70 L1852.75 1135.20 L1854.25 1135.20 L1854.25 1134.70 L1857.75 1134.70 L1857.75 1137.20ZM1874.75 1137.20 L1874.75 1134.70 L1876.25 1134.70 L1876.25 1135.20 L1882.25 1135.20 L1882.25 1137.20ZM1887.75 1137.20 L1887.75 1135.20 L1888.25 1135.20 L1888.25 1135.70 L1889.75 1135.70 L1889.75 1135.20 L1890.75 1135.20 L1890.75 1135.70 L1891.75 1135.70 L1891.75 1135.20 L1893.75 1135.20 L1893.75 1137.20ZM1894.75 1137.20 L1894.75 1134.70 L1897.75 1134.70 L1897.75 1135.20 L1899.75 1135.20 L1899.75 1134.70 L1910.25 1134.70 L1910.25 1137.20ZM1915.75 1137.20 L1915.75 1135.20 L1924.25 1135.20 L1924.25 1135.70 L1931.75 1135.70 L1931.75 1135.20 L1934.25 1135.20 L1934.25 1134.70 L1934.75 1134.70 L1934.75 1135.20 L1936.75 1135.20 L1936.75 1135.70 L1938.75 1135.70 L1938.75 1135.20 L1939.25 1135.20 L1939.25 1135.70 L1941.25 1135.70 L1941.25 1137.20ZM1942.75 1137.20 L1942.75 1129.20 L1943.25 1129.20 L1943.25 1127.70 L1943.75 1127.70 L1943.75 1129.20 L1944.25 1129.20 L1944.25 1131.20 L1949.75 1131.20 L1949.75 1137.20ZM1956.25 1137.20 L1956.25 1135.70 L1957.75 1135.70 L1957.75 1136.20 L1958.25 1136.20 L1958.25 1135.70 L1960.75 1135.70 L1960.75 1135.20 L1973.75 1135.20 L1973.75 1137.20ZM1991.75 1137.20 L1991.75 1135.20 L1995.75 1135.20 L1995.75 1135.70 L1996.75 1135.70 L1996.75 1137.20ZM2013.75 1137.20 L2013.75 1135.20 L2016.25 1135.20 L2016.25 1135.70 L2018.25 1135.70 L2018.25 1137.20ZM2024.75 1137.20 L2024.75 1136.20 L2025.25 1136.20 L2025.25 1135.70 L2025.75 1135.70 L2025.75 1136.20 L2026.75 1136.20 L2026.75 1135.70 L2028.75 1135.70 L2028.75 1135.20 L2031.75 1135.20 L2031.75 1134.70 L2032.75 1134.70 L2032.75 1134.20 L2033.25 1134.20 L2033.25 1133.70 L2033.75 1133.70 L2033.75 1133.20 L2034.25 1133.20 L2034.25 1132.70 L2034.75 1132.70 L2034.75 1132.20 L2035.75 1132.20 L2035.75 1131.70 L2036.25 1131.70 L2036.25 1131.20 L2036.75 1131.20 L2036.75 1131.70 L2037.25 1131.70 L2037.25 1132.20 L2038.25 1132.20 L2038.25 1132.70 L2038.75 1132.70 L2038.75 1133.20 L2039.25 1133.20 L2039.25 1133.70 L2039.75 1133.70 L2039.75 1134.20 L2040.25 1134.20 L2040.25 1137.20ZM2042.25 1137.20 L2042.25 1134.70 L2042.75 1134.70 L2042.75 1134.20 L2044.25 1134.20 L2044.25 1133.70 L2045.25 1133.70 L2045.25 1133.20 L2046.75 1133.20 L2046.75 1133.70 L2049.25 1133.70 L2049.25 1134.20 L2051.75 1134.20 L2051.75 1133.70 L2052.25 1133.70 L2052.25 1137.20ZM2057.75 1137.20 L2057.75 1135.70 L2060.75 1135.70 L2060.75 1135.20 L2061.25 1135.20 L2061.25 1135.70 L2061.75 1135.70 L2061.75 1135.20 L2071.75 1135.20 L2071.75 1135.70 L2076.75 1135.70 L2076.75 1135.20 L2077.25 1135.20 L2077.25 1135.70 L2078.75 1135.70 L2078.75 1135.20 L2086.25 1135.20 L2086.25 1137.20ZM2088.75 1137.20 L2088.75 1135.70 L2089.25 1135.70 L2089.25 1136.20 L2090.75 1136.20 L2090.75 1135.70 L2093.25 1135.70 L2093.25 1137.20ZM2106.75 1137.20 L2106.75 1135.20 L2107.25 1135.20 L2107.25 1135.70 L2111.75 1135.70 L2111.75 1137.20ZM2112.75 1137.20 L2112.75 1135.20 L2113.25 1135.20 L2113.25 1134.70 L2115.25 1134.70 L2115.25 1135.20 L2117.25 1135.20 L2117.25 1135.70 L2118.25 1135.70 L2118.25 1135.20 L2120.25 1135.20 L2120.25 1134.70 L2122.25 1134.70 L2122.25 1134.20 L2122.75 1134.20 L2122.75 1134.70 L2127.25 1134.70 L2127.25 1135.20 L2131.75 1135.20 L2131.75 1134.70 L2133.75 1134.70 L2133.75 1134.20 L2134.75 1134.20 L2134.75 1134.70 L2136.25 1134.70 L2136.25 1135.20 L2139.25 1135.20 L2139.25 1137.20ZM2158.75 1137.20 L2158.75 1135.70 L2163.25 1135.70 L2163.25 1135.20 L2164.75 1135.20 L2164.75 1137.20ZM2166.25 1137.20 L2166.25 1135.70 L2171.25 1135.70 L2171.25 1137.20ZM2195.75 1137.20 L2195.75 1134.70 L2201.25 1134.70 L2201.25 1135.20 L2202.25 1135.20 L2202.25 1134.70 L2202.75 1134.70 L2202.75 1135.20 L2207.25 1135.20 L2207.25 1134.70 L2211.25 1134.70 L2211.25 1137.20ZM2219.75 1137.20 L2219.75 1135.70 L2220.75 1135.70 L2220.75 1136.20 L2221.25 1136.20 L2221.25 1135.70 L2223.25 1135.70 L2223.25 1136.20 L2225.25 1136.20 L2225.25 1137.20ZM2228.75 1137.20 L2228.75 1134.70 L2231.75 1134.70 L2231.75 1135.20 L2234.25 1135.20 L2234.25 1137.20ZM2245.25 1137.20 L2245.25 1135.20 L2245.75 1135.20 L2245.75 1135.70 L2246.75 1135.70 L2246.75 1135.20 L2247.25 1135.20 L2247.25 1135.70 L2247.75 1135.70 L2247.75 1135.20 L2250.25 1135.20 L2250.25 1137.20Z" fill="#FF8800"/>
<path d="M1354.40 1137.20 L1355.00 1130.20 L1356.30 1119.70 L1357.00 1121.45 L1357.40 1135.20 L1357.40 1137.20Z" fill="#FF8800"/>
<path d="M1536.20 1137.20 L1536.40 1040.00 L1537.50 1008.00 L1538.80 996.00 L1539.50 1010.00 L1541.00 1040.00 L1542.80 1063.00 L1542.80 1137.20Z" fill="#FF8800"/>
<path d="M2239.10 1137.20 L2239.10 1075.00 L2239.60 1069.30 L2240.80 1080.00 L2241.50 1075.00 L2242.50 1085.80 L2247.80 1085.80 L2247.80 1088.00 L2245.50 1088.00 L2245.50 1137.20Z" fill="#FF8800"/>
<path d="M2333.70 1137.20 L2333.70 1088.00 L2331.00 1088.00 L2331.00 1085.80 L2335.80 1085.80 L2336.00 1078.00 L2337.00 1073.70 L2338.00 1079.00 L2339.70 1075.00 L2339.70 1137.20Z" fill="#FF8800"/>
<rect x="402" y="1137" width="1937.5" height="1" fill="rgb(255, 223, 186)"/>
<rect x="397.7" y="957.70" width="4.3" height="181.60" fill="#000"/>
<rect x="380.3" y="1135.10" width="21.7" height="4.2" fill="#000"/>
<rect x="380.3" y="1090.75" width="21.7" height="4.2" fill="#000"/>
<rect x="380.3" y="1046.40" width="21.7" height="4.2" fill="#000"/>
<rect x="380.3" y="1002.05" width="21.7" height="4.2" fill="#000"/>
<rect x="380.3" y="957.70" width="21.7" height="4.2" fill="#000"/>
<rect x="402.1" y="1344.10" width="0.9" height="105.00" fill="#FF8800" opacity="0.35"/>
<path d="M402.75 1449.10 L402.75 1447.10 L404.25 1447.10 L404.25 1447.60 L409.25 1447.60 L409.25 1447.10 L409.75 1447.10 L409.75 1447.60 L411.25 1447.60 L411.25 1447.10 L412.25 1447.10 L412.25 1446.60 L413.25 1446.60 L413.25 1446.10 L413.75 1446.10 L413.75 1446.60 L414.75 1446.60 L414.75 1447.10 L415.75 1447.10 L415.75 1447.60 L418.25 1447.60 L418.25 1449.10ZM421.75 1449.10 L421.75 1447.10 L423.75 1447.10 L423.75 1446.60 L425.25 1446.60 L425.25 1446.10 L426.75 1446.10 L426.75 1446.60 L428.75 1446.60 L428.75 1447.10 L430.25 1447.10 L430.25 1448.60 L440.25 1448.60 L440.25 1449.10ZM440.75 1449.10 L440.75 1448.10 L451.75 1448.10 L451.75 1447.60 L452.75 1447.60 L452.75 1447.10 L453.25 1447.10 L453.25 1447.60 L454.75 1447.60 L454.75 1447.10 L456.75 1447.10 L456.75 1446.60 L459.25 1446.60 L459.25 1446.10 L460.25 1446.10 L460.25 1445.60 L461.75 1445.60 L461.75 1446.10 L462.75 1446.10 L462.75 1446.60 L463.75 1446.60 L463.75 1447.10 L464.25 1447.10 L464.25 1447.60 L465.25 1447.60 L465.25 1447.10 L465.75 1447.10 L465.75 1447.60 L466.25 1447.60 L466.25 1449.10ZM469.75 1449.10 L469.75 1446.60 L475.25 1446.60 L475.25 1446.10 L475.75 1446.10 L475.75 1446.60 L476.25 1446.60 L476.25 1449.10ZM477.75 1449.10 L477.75 1447.60 L488.25 1447.60 L488.25 1449.10ZM493.75 1449.10 L493.75 1447.10 L495.25 1447.10 L495.25 1447.60 L500.25 1447.60 L500.25 1447.10 L502.75 1447.10 L502.75 1446.60 L503.75 1446.60 L503.75 1446.10 L504.25 1446.10 L504.25 1446.60 L505.25 1446.60 L505.25 1447.10 L506.25 1447.10 L506.25 1447.60 L508.25 1447.60 L508.25 1449.10ZM508.75 1449.10 L508.75 1446.60 L511.25 1446.60 L511.25 1447.10 L514.25 1447.10 L514.25 1447.60 L514.75 1447.60 L514.75 1447.10 L516.25 1447.10 L516.25 1449.10ZM519.75 1449.10 L519.75 1447.10 L522.75 1447.10 L522.75 1446.60 L529.25 1446.60 L529.25 1441.60 L529.75 1441.60 L529.75 1441.10 L530.25 1441.10 L530.25 1440.60 L531.25 1440.60 L531.25 1440.10 L531.75 1440.10 L531.75 1439.60 L532.75 1439.60 L532.75 1439.10 L533.25 1439.10 L533.25 1439.60 L534.25 1439.60 L534.25 1440.10 L534.75 1440.10 L534.75 1440.60 L535.75 1440.60 L535.75 1441.10 L536.25 1441.10 L536.25 1441.60 L537.25 1441.60 L537.25 1442.10 L537.75 1442.10 L537.75 1442.60 L538.75 1442.60 L538.75 1443.10 L543.25 1443.10 L543.25 1442.60 L548.75 1442.60 L548.75 1443.10 L549.25 1443.10 L549.25 1442.60 L552.75 1442.60 L552.75 1443.10 L555.25 1443.10 L555.25 1449.10ZM559.75 1449.10 L559.75 1446.10 L561.25 1446.10 L561.25 1446.60 L563.25 1446.60 L563.25 1446.10 L568.25 1446.10 L568.25 1445.60 L569.25 1445.60 L569.25 1445.10 L570.75 1445.10 L570.75 1445.60 L571.75 1445.60 L571.75 1446.10 L573.25 1446.10 L573.25 1446.60 L576.25 1446.60 L576.25 1447.10 L579.25 1447.10 L579.25 1446.60 L579.75 1446.60 L579.75 1449.10ZM580.25 1449.10 L580.25 1446.10 L582.25 1446.10 L582.25 1445.60 L583.25 1445.60 L583.25 1445.10 L584.25 1445.10 L584.25 1444.60 L585.25 1444.60 L585.25 1444.10 L586.75 1444.10 L586.75 1444.60 L587.75 1444.60 L587.75 1445.10 L588.75 1445.10 L588.75 1445.60 L589.75 1445.60 L589.75 1446.10 L591.25 1446.10 L591.25 1445.60 L592.75 1445.60 L592.75 1445.10 L594.75 1445.10 L594.75 1445.60 L596.75 1445.60 L596.75 1446.10 L597.75 1446.10 L597.75 1446.60 L598.75 1446.60 L598.75 1446.10 L600.25 1446.10 L600.25 1445.60 L601.25 1445.60 L601.25 1445.10 L601.75 1445.10 L601.75 1445.60 L602.25 1445.60 L602.25 1449.10ZM605.75 1449.10 L605.75 1447.10 L606.25 1447.10 L606.25 1447.60 L609.25 1447.60 L609.25 1448.10 L610.25 1448.10 L610.25 1447.60 L615.25 1447.60 L615.25 1447.10 L624.25 1447.10 L624.25 1446.10 L625.25 1446.10 L625.25 1446.60 L626.25 1446.60 L626.25 1446.10 L627.25 1446.10 L627.25 1446.60 L627.75 1446.60 L627.75 1446.10 L635.25 1446.10 L635.25 1445.60 L636.25 1445.60 L636.25 1445.10 L637.25 1445.10 L637.25 1444.60 L638.75 1444.60 L638.75 1445.10 L639.75 1445.10 L639.75 1445.60 L640.75 1445.60 L640.75 1446.10 L641.75 1446.10 L641.75 1446.60 L643.25 1446.60 L643.25 1449.10ZM645.75 1449.10 L645.75 1446.60 L649.25 1446.60 L649.25 1446.10 L650.25 1446.10 L650.25 1445.60 L650.75 1445.60 L650.75 1445.10 L651.25 1445.10 L651.25 1444.60 L651.75 1444.60 L651.75 1444.10 L652.75 1444.10 L652.75 1443.60 L653.25 1443.60 L653.25 1443.10 L654.25 1443.10 L654.25 1442.60 L654.75 1442.60 L654.75 1442.10 L655.25 1442.10 L655.25 1442.60 L655.75 1442.60 L655.75 1443.10 L656.75 1443.10 L656.75 1443.60 L657.25 1443.60 L657.25 1444.10 L658.25 1444.10 L658.25 1444.60 L658.75 1444.60 L658.75 1445.10 L659.25 1445.10 L659.25 1445.60 L659.75 1445.60 L659.75 1449.10ZM660.75 1449.10 L660.75 1445.60 L663.25 1445.60 L663.25 1446.10 L664.25 1446.10 L664.25 1446.60 L668.25 1446.60 L668.25 1446.10 L671.75 1446.10 L671.75 1446.60 L673.25 1446.60 L673.25 1449.10ZM674.75 1449.10 L674.75 1447.10 L675.25 1447.10 L675.25 1446.60 L677.25 1446.60 L677.25 1446.10 L680.75 1446.10 L680.75 1445.60 L682.25 1445.60 L682.25 1445.10 L683.25 1445.10 L683.25 1444.60 L684.75 1444.60 L684.75 1445.10 L685.75 1445.10 L685.75 1445.60 L686.75 1445.60 L686.75 1446.10 L687.75 1446.10 L687.75 1446.60 L688.25 1446.60 L688.25 1447.10 L692.25 1447.10 L692.25 1446.60 L692.75 1446.60 L692.75 1447.10 L693.25 1447.10 L693.25 1446.60 L693.75 1446.60 L693.75 1447.10 L696.25 1447.10 L696.25 1446.60 L697.25 1446.60 L697.25 1446.10 L698.25 1446.10 L698.25 1445.60 L699.25 1445.60 L699.25 1446.10 L700.25 1446.10 L700.25 1446.60 L701.25 1446.60 L701.25 1447.10 L706.75 1447.10 L706.75 1449.10ZM708.25 1449.10 L708.25 1446.10 L709.25 1446.10 L709.25 1445.60 L710.25 1445.60 L710.25 1445.10 L711.25 1445.10 L711.25 1444.60 L711.75 1444.60 L711.75 1444.10 L712.75 1444.10 L712.75 1443.60 L713.25 1443.60 L713.25 1443.10 L714.25 1443.10 L714.25 1443.60 L714.75 1443.60 L714.75 1444.10 L715.75 1444.10 L715.75 1444.60 L716.25 1444.60 L716.25 1445.10 L717.25 1445.10 L717.25 1445.60 L717.75 1445.60 L717.75 1446.10 L718.75 1446.10 L718.75 1446.60 L719.25 1446.60 L719.25 1447.60 L723.25 1447.60 L723.25 1447.10 L723.75 1447.10 L723.75 1447.60 L724.25 1447.60 L724.25 1447.10 L732.25 1447.10 L732.25 1447.60 L735.75 1447.60 L735.75 1447.10 L744.75 1447.10 L744.75 1449.10ZM746.75 1449.10 L746.75 1446.10 L748.75 1446.10 L748.75 1445.60 L750.25 1445.60 L750.25 1446.10 L752.25 1446.10 L752.25 1446.60 L755.75 1446.60 L755.75 1446.10 L757.75 1446.10 L757.75 1445.60 L758.75 1445.60 L758.75 1446.10 L759.25 1446.10 L759.25 1445.60 L760.75 1445.60 L760.75 1446.10 L762.25 1446.10 L762.25 1446.60 L763.75 1446.60 L763.75 1447.10 L764.25 1447.10 L764.25 1446.60 L767.75 1446.60 L767.75 1446.10 L771.25 1446.10 L771.25 1446.60 L772.75 1446.60 L772.75 1446.10 L774.25 1446.10 L774.25 1445.60 L775.75 1445.60 L775.75 1446.10 L777.25 1446.10 L777.25 1446.60 L777.75 1446.60 L777.75 1446.10 L782.75 1446.10 L782.75 1445.60 L783.25 1445.60 L783.25 1446.10 L783.75 1446.10 L783.75 1445.60 L784.25 1445.60 L784.25 1446.10 L784.75 1446.10 L784.75 1445.60 L785.25 1445.60 L785.25 1446.10 L785.75 1446.10 L785.75 1445.60 L787.75 1445.60 L787.75 1449.10ZM789.25 1449.10 L789.25 1447.60 L789.75 1447.60 L789.75 1446.10 L790.75 1446.10 L790.75 1446.60 L796.75 1446.60 L796.75 1446.10 L798.25 1446.10 L798.25 1445.60 L799.25 1445.60 L799.25 1445.10 L800.75 1445.10 L800.75 1445.60 L801.75 1445.60 L801.75 1446.10 L803.25 1446.10 L803.25 1446.60 L804.25 1446.60 L804.25 1446.10 L805.25 1446.10 L805.25 1445.60 L806.25 1445.60 L806.25 1445.10 L807.25 1445.10 L807.25 1444.60 L808.25 1444.60 L808.25 1444.10 L808.75 1444.10 L808.75 1444.60 L809.75 1444.60 L809.75 1445.10 L810.75 1445.10 L810.75 1445.60 L811.75 1445.60 L811.75 1446.10 L813.75 1446.10 L813.75 1445.60 L814.25 1445.60 L814.25 1446.10 L817.25 1446.10 L817.25 1446.60 L817.75 1446.60 L817.75 1446.10 L818.75 1446.10 L818.75 1446.60 L820.75 1446.60 L820.75 1446.10 L821.25 1446.10 L821.25 1445.60 L823.25 1445.60 L823.25 1445.10 L824.75 1445.10 L824.75 1445.60 L826.75 1445.60 L826.75 1446.10 L827.75 1446.10 L827.75 1442.60 L828.75 1442.60 L828.75 1442.10 L830.25 1442.10 L830.25 1441.60 L831.25 1441.60 L831.25 1441.10 L832.25 1441.10 L832.25 1440.60 L833.75 1440.60 L833.75 1441.10 L834.75 1441.10 L834.75 1441.60 L835.75 1441.60 L835.75 1441.10 L836.25 1441.10 L836.25 1440.60 L836.75 1440.60 L836.75 1440.10 L837.75 1440.10 L837.75 1439.60 L838.25 1439.60 L838.25 1439.10 L838.75 1439.10 L838.75 1438.60 L839.25 1438.60 L839.25 1438.10 L839.75 1438.10 L839.75 1437.60 L840.25 1437.60 L840.25 1438.10 L840.75 1438.10 L840.75 1438.60 L841.25 1438.60 L841.25 1439.10 L841.75 1439.10 L841.75 1439.60 L842.25 1439.60 L842.25 1440.10 L843.25 1440.10 L843.25 1440.60 L843.75 1440.60 L843.75 1441.10 L844.25 1441.10 L844.25 1441.60 L844.75 1441.60 L844.75 1442.10 L845.25 1442.10 L845.25 1442.60 L845.75 1442.60 L845.75 1443.10 L852.75 1443.10 L852.75 1446.60 L854.25 1446.60 L854.25 1446.10 L854.75 1446.10 L854.75 1446.60 L855.25 1446.60 L855.25 1446.10 L858.25 1446.10 L858.25 1445.60 L858.75 1445.60 L858.75 1446.10 L863.75 1446.10 L863.75 1445.60 L864.25 1445.60 L864.25 1446.10 L865.75 1446.10 L865.75 1445.60 L866.75 1445.60 L866.75 1446.10 L870.25 1446.10 L870.25 1449.10ZM870.75 1449.10 L870.75 1447.10 L872.75 1447.10 L872.75 1446.60 L875.75 1446.60 L875.75 1447.10 L881.75 1447.10 L881.75 1447.60 L882.75 1447.60 L882.75 1447.10 L884.25 1447.10 L884.25 1446.60 L884.75 1446.60 L884.75 1447.10 L885.25 1447.10 L885.25 1446.60 L891.75 1446.60 L891.75 1449.10ZM897.75 1449.10 L897.75 1447.10 L898.75 1447.10 L898.75 1446.60 L907.75 1446.60 L907.75 1447.10 L908.75 1447.10 L908.75 1447.60 L911.75 1447.60 L911.75 1447.10 L915.25 1447.10 L915.25 1449.10ZM915.75 1449.10 L915.75 1447.10 L917.75 1447.10 L917.75 1447.60 L918.75 1447.60 L918.75 1447.10 L929.25 1447.10 L929.25 1446.60 L930.25 1446.60 L930.25 1447.10 L931.25 1447.10 L931.25 1446.60 L933.75 1446.60 L933.75 1446.10 L934.75 1446.10 L934.75 1445.60 L936.25 1445.60 L936.25 1446.10 L938.25 1446.10 L938.25 1446.60 L938.75 1446.60 L938.75 1446.10 L939.25 1446.10 L939.25 1446.60 L940.75 1446.60 L940.75 1447.10 L944.75 1447.10 L944.75 1446.60 L946.25 1446.60 L946.25 1446.10 L947.25 1446.10 L947.25 1445.60 L948.75 1445.60 L948.75 1446.10 L952.25 1446.10 L952.25 1446.60 L952.75 1446.60 L952.75 1446.10 L953.25 1446.10 L953.25 1446.60 L954.25 1446.60 L954.25 1446.10 L954.75 1446.10 L954.75 1446.60 L957.25 1446.60 L957.25 1449.10ZM966.75 1449.10 L966.75 1446.60 L968.25 1446.60 L968.25 1446.10 L969.75 1446.10 L969.75 1445.60 L970.75 1445.60 L970.75 1446.10 L972.75 1446.10 L972.75 1445.60 L974.25 1445.60 L974.25 1445.10 L975.25 1445.10 L975.25 1445.60 L976.25 1445.60 L976.25 1446.10 L978.25 1446.10 L978.25 1444.60 L979.75 1444.60 L979.75 1445.10 L980.25 1445.10 L980.25 1444.60 L981.75 1444.60 L981.75 1445.10 L982.25 1445.10 L982.25 1444.60 L983.25 1444.60 L983.25 1445.10 L983.75 1445.10 L983.75 1444.60 L984.25 1444.60 L984.25 1445.10 L984.75 1445.10 L984.75 1444.60 L987.75 1444.60 L987.75 1445.10 L988.25 1445.10 L988.25 1444.60 L988.75 1444.60 L988.75 1445.10 L989.75 1445.10 L989.75 1444.60 L990.25 1444.60 L990.25 1449.10ZM990.75 1449.10 L990.75 1446.60 L991.25 1446.60 L991.25 1447.10 L997.75 1447.10 L997.75 1447.60 L998.25 1447.60 L998.25 1447.10 L1001.25 1447.10 L1001.25 1449.10ZM1002.75 1449.10 L1002.75 1446.60 L1003.75 1446.60 L1003.75 1446.10 L1014.75 1446.10 L1014.75 1445.60 L1016.25 1445.60 L1016.25 1445.10 L1017.25 1445.10 L1017.25 1445.60 L1018.25 1445.60 L1018.25 1446.10 L1019.75 1446.10 L1019.75 1446.60 L1024.75 1446.60 L1024.75 1447.10 L1025.25 1447.10 L1025.25 1449.10ZM1034.75 1449.10 L1034.75 1448.10 L1041.25 1448.10 L1041.25 1449.10ZM1041.75 1449.10 L1041.75 1445.60 L1043.75 1445.60 L1043.75 1445.10 L1051.25 1445.10 L1051.25 1445.60 L1052.25 1445.60 L1052.25 1449.10ZM1055.75 1449.10 L1055.75 1448.10 L1061.75 1448.10 L1061.75 1449.10ZM1063.75 1449.10 L1063.75 1446.60 L1064.75 1446.60 L1064.75 1447.10 L1065.25 1447.10 L1065.25 1446.60 L1066.25 1446.60 L1066.25 1447.10 L1066.75 1447.10 L1066.75 1446.60 L1067.25 1446.60 L1067.25 1447.10 L1071.75 1447.10 L1071.75 1446.60 L1073.25 1446.60 L1073.25 1446.10 L1074.25 1446.10 L1074.25 1445.60 L1075.75 1445.60 L1075.75 1446.10 L1076.75 1446.10 L1076.75 1446.60 L1077.75 1446.60 L1077.75 1447.10 L1080.25 1447.10 L1080.25 1446.60 L1083.25 1446.60 L1083.25 1447.10 L1084.75 1447.10 L1084.75 1447.60 L1088.25 1447.60 L1088.25 1447.10 L1088.75 1447.10 L1088.75 1447.60 L1089.25 1447.60 L1089.25 1447.10 L1090.25 1447.10 L1090.25 1449.10ZM1095.75 1449.10 L1095.75 1447.10 L1097.25 1447.10 L1097.25 1446.60 L1099.75 1446.60 L1099.75 1447.10 L1102.75 1447.10 L1102.75 1446.60 L1109.25 1446.60 L1109.25 1447.10 L1110.25 1447.10 L1110.25 1449.10ZM1115.75 1449.10 L1115.75 1446.60 L1119.75 1446.60 L1119.75 1446.10 L1121.25 1446.10 L1121.25 1445.60 L1122.75 1445.60 L1122.75 1446.10 L1124.25 1446.10 L1124.25 1446.60 L1125.25 1446.60 L1125.25 1447.10 L1131.25 1447.10 L1131.25 1446.60 L1132.25 1446.60 L1132.25 1446.10 L1133.75 1446.10 L1133.75 1445.60 L1135.25 1445.60 L1135.25 1446.10 L1137.25 1446.10 L1137.25 1446.60 L1143.75 1446.60 L1143.75 1446.10 L1147.25 1446.10 L1147.25 1446.60 L1150.25 1446.60 L1150.25 1447.10 L1150.75 1447.10 L1150.75 1446.60 L1160.25 1446.60 L1160.25 1449.10ZM1163.75 1449.10 L1163.75 1446.60 L1164.75 1446.60 L1164.75 1446.10 L1167.25 1446.10 L1167.25 1446.60 L1168.75 1446.60 L1168.75 1447.10 L1172.25 1447.10 L1172.25 1446.60 L1176.25 1446.60 L1176.25 1446.10 L1177.75 1446.10 L1177.75 1445.60 L1179.25 1445.60 L1179.25 1446.10 L1182.75 1446.10 L1182.75 1446.60 L1187.75 1446.60 L1187.75 1446.10 L1189.25 1446.10 L1189.25 1445.60 L1189.75 1445.60 L1189.75 1446.10 L1190.25 1446.10 L1190.25 1446.60 L1192.25 1446.60 L1192.25 1447.10 L1196.25 1447.10 L1196.25 1446.60 L1198.25 1446.60 L1198.25 1446.10 L1199.25 1446.10 L1199.25 1445.60 L1200.75 1445.60 L1200.75 1446.10 L1201.75 1446.10 L1201.75 1446.60 L1202.75 1446.60 L1202.75 1447.10 L1203.75 1447.10 L1203.75 1446.60 L1211.25 1446.60 L1211.25 1449.10ZM1215.75 1449.10 L1215.75 1448.10 L1222.25 1448.10 L1222.25 1449.10ZM1222.75 1449.10 L1222.75 1446.60 L1223.25 1446.60 L1223.25 1446.10 L1224.75 1446.10 L1224.75 1445.60 L1228.75 1445.60 L1228.75 1446.10 L1231.25 1446.10 L1231.25 1445.60 L1232.25 1445.60 L1232.25 1445.10 L1232.75 1445.10 L1232.75 1445.60 L1233.25 1445.60 L1233.25 1445.10 L1236.25 1445.10 L1236.25 1444.60 L1237.25 1444.60 L1237.25 1445.10 L1238.75 1445.10 L1238.75 1445.60 L1239.75 1445.60 L1239.75 1445.10 L1240.25 1445.10 L1240.25 1444.60 L1241.25 1444.60 L1241.25 1444.10 L1242.25 1444.10 L1242.25 1443.60 L1243.25 1443.60 L1243.25 1443.10 L1244.25 1443.10 L1244.25 1443.60 L1244.75 1443.60 L1244.75 1444.10 L1245.75 1444.10 L1245.75 1444.60 L1246.75 1444.60 L1246.75 1445.10 L1247.75 1445.10 L1247.75 1445.60 L1248.75 1445.60 L1248.75 1445.10 L1252.25 1445.10 L1252.25 1445.60 L1256.25 1445.60 L1256.25 1445.10 L1259.25 1445.10 L1259.25 1445.60 L1260.25 1445.60 L1260.25 1446.10 L1260.75 1446.10 L1260.75 1446.60 L1265.25 1446.60 L1265.25 1447.10 L1266.25 1447.10 L1266.25 1446.60 L1267.25 1446.60 L1267.25 1447.10 L1267.75 1447.10 L1267.75 1446.60 L1268.25 1446.60 L1268.25 1447.10 L1272.25 1447.10 L1272.25 1446.60 L1272.75 1446.60 L1272.75 1447.10 L1274.25 1447.10 L1274.25 1446.60 L1276.25 1446.60 L1276.25 1446.10 L1277.75 1446.10 L1277.75 1445.60 L1278.75 1445.60 L1278.75 1446.10 L1282.25 1446.10 L1282.25 1446.60 L1284.25 1446.60 L1284.25 1447.10 L1292.25 1447.10 L1292.25 1446.60 L1296.75 1446.60 L1296.75 1446.10 L1298.25 1446.10 L1298.25 1446.60 L1300.75 1446.60 L1300.75 1446.10 L1301.75 1446.10 L1301.75 1445.60 L1302.75 1445.60 L1302.75 1445.10 L1303.75 1445.10 L1303.75 1444.60 L1304.75 1444.60 L1304.75 1444.10 L1305.25 1444.10 L1305.25 1444.60 L1306.25 1444.60 L1306.25 1445.10 L1307.25 1445.10 L1307.25 1445.60 L1308.25 1445.60 L1308.25 1446.10 L1309.25 1446.10 L1309.25 1446.60 L1309.75 1446.60 L1309.75 1447.10 L1310.25 1447.10 L1310.25 1446.60 L1312.25 1446.60 L1312.25 1446.10 L1323.75 1446.10 L1323.75 1446.60 L1329.25 1446.60 L1329.25 1446.10 L1331.25 1446.10 L1331.25 1446.60 L1331.75 1446.60 L1331.75 1449.10ZM1340.75 1449.10 L1340.75 1443.10 L1343.25 1443.10 L1343.25 1443.60 L1353.25 1443.60 L1353.25 1449.10ZM1368.75 1449.10 L1368.75 1443.10 L1371.25 1443.10 L1371.25 1443.60 L1371.75 1443.60 L1371.75 1449.10ZM1403.75 1449.10 L1403.75 1444.10 L1404.25 1444.10 L1404.25 1443.60 L1404.75 1443.60 L1404.75 1443.10 L1405.25 1443.10 L1405.25 1442.60 L1406.25 1442.60 L1406.25 1442.10 L1406.75 1442.10 L1406.75 1441.60 L1407.25 1441.60 L1407.25 1441.10 L1408.25 1441.10 L1408.25 1441.60 L1408.75 1441.60 L1408.75 1442.10 L1409.25 1442.10 L1409.25 1442.60 L1410.25 1442.60 L1410.25 1443.10 L1410.75 1443.10 L1410.75 1443.60 L1411.25 1443.60 L1411.25 1444.10 L1412.25 1444.10 L1412.25 1444.60 L1413.75 1444.60 L1413.75 1444.10 L1414.75 1444.10 L1414.75 1443.60 L1415.75 1443.60 L1415.75 1443.10 L1416.75 1443.10 L1416.75 1443.60 L1418.25 1443.60 L1418.25 1444.10 L1419.25 1444.10 L1419.25 1444.60 L1420.25 1444.60 L1420.25 1445.10 L1421.75 1445.10 L1421.75 1444.60 L1423.25 1444.60 L1423.25 1444.10 L1424.25 1444.10 L1424.25 1443.60 L1425.75 1443.60 L1425.75 1444.10 L1426.75 1444.10 L1426.75 1444.60 L1428.75 1444.60 L1428.75 1445.10 L1435.75 1445.10 L1435.75 1445.60 L1436.75 1445.60 L1436.75 1446.10 L1441.75 1446.10 L1441.75 1446.60 L1442.25 1446.60 L1442.25 1446.10 L1443.75 1446.10 L1443.75 1445.60 L1447.75 1445.60 L1447.75 1445.10 L1450.75 1445.10 L1450.75 1449.10ZM1460.75 1449.10 L1460.75 1448.10 L1472.25 1448.10 L1472.25 1449.10ZM1478.75 1449.10 L1478.75 1445.60 L1480.75 1445.60 L1480.75 1446.10 L1481.25 1446.10 L1481.25 1445.60 L1481.75 1445.60 L1481.75 1445.10 L1483.25 1445.10 L1483.25 1444.60 L1484.25 1444.60 L1484.25 1444.10 L1485.25 1444.10 L1485.25 1443.60 L1486.25 1443.60 L1486.25 1443.10 L1487.25 1443.10 L1487.25 1443.60 L1488.25 1443.60 L1488.25 1444.10 L1489.25 1444.10 L1489.25 1444.60 L1490.75 1444.60 L1490.75 1445.10 L1491.75 1445.10 L1491.75 1445.60 L1493.75 1445.60 L1493.75 1445.10 L1495.25 1445.10 L1495.25 1444.60 L1496.75 1444.60 L1496.75 1444.10 L1498.25 1444.10 L1498.25 1444.60 L1501.25 1444.60 L1501.25 1444.10 L1501.75 1444.10 L1501.75 1444.60 L1508.75 1444.60 L1508.75 1445.10 L1509.25 1445.10 L1509.25 1444.60 L1509.75 1444.60 L1509.75 1445.10 L1511.25 1445.10 L1511.25 1445.60 L1512.25 1445.60 L1512.25 1446.10 L1513.25 1446.10 L1513.25 1446.60 L1514.25 1446.60 L1514.25 1446.10 L1514.75 1446.10 L1514.75 1446.60 L1516.25 1446.60 L1516.25 1446.10 L1517.75 1446.10 L1517.75 1445.60 L1518.25 1445.60 L1518.25 1446.10 L1518.75 1446.10 L1518.75 1445.60 L1519.75 1445.60 L1519.75 1445.10 L1520.75 1445.10 L1520.75 1444.60 L1524.75 1444.60 L1524.75 1445.10 L1528.25 1445.10 L1528.25 1444.60 L1529.25 1444.60 L1529.25 1444.10 L1530.25 1444.10 L1530.25 1443.60 L1531.25 1443.60 L1531.25 1443.10 L1532.25 1443.10 L1532.25 1442.60 L1533.25 1442.60 L1533.25 1443.10 L1534.25 1443.10 L1534.25 1443.60 L1535.25 1443.60 L1535.25 1444.10 L1536.25 1444.10 L1536.25 1449.10ZM1542.75 1449.10 L1542.75 1448.10 L1547.25 1448.10 L1547.25 1449.10ZM1553.75 1449.10 L1553.75 1446.60 L1556.25 1446.60 L1556.25 1447.10 L1564.25 1447.10 L1564.25 1446.60 L1565.25 1446.60 L1565.25 1449.10ZM1586.75 1449.10 L1586.75 1448.10 L1598.25 1448.10 L1598.25 1449.10ZM1609.75 1449.10 L1609.75 1447.10 L1610.75 1447.10 L1610.75 1447.60 L1612.75 1447.60 L1612.75 1448.10 L1616.25 1448.10 L1616.25 1449.10ZM1623.75 1449.10 L1623.75 1448.10 L1645.25 1448.10 L1645.25 1449.10ZM1647.75 1449.10 L1647.75 1447.10 L1648.25 1447.10 L1648.25 1446.60 L1650.25 1446.60 L1650.25 1446.10 L1650.75 1446.10 L1650.75 1446.60 L1652.75 1446.60 L1652.75 1447.10 L1653.25 1447.10 L1653.25 1446.60 L1653.75 1446.60 L1653.75 1447.10 L1666.25 1447.10 L1666.25 1449.10ZM1668.75 1449.10 L1668.75 1447.60 L1677.75 1447.60 L1677.75 1449.10ZM1682.25 1449.10 L1682.25 1445.60 L1683.75 1445.60 L1683.75 1446.10 L1685.25 1446.10 L1685.25 1446.60 L1685.75 1446.60 L1685.75 1446.10 L1687.75 1446.10 L1687.75 1445.60 L1688.25 1445.60 L1688.25 1449.10ZM1694.75 1449.10 L1694.75 1446.60 L1699.75 1446.60 L1699.75 1447.10 L1700.75 1447.10 L1700.75 1447.60 L1702.75 1447.60 L1702.75 1447.10 L1704.25 1447.10 L1704.25 1446.60 L1711.25 1446.60 L1711.25 1447.10 L1713.75 1447.10 L1713.75 1447.60 L1714.25 1447.60 L1714.25 1447.10 L1716.25 1447.10 L1716.25 1446.60 L1719.75 1446.60 L1719.75 1449.10ZM1762.75 1449.10 L1762.75 1445.60 L1763.25 1445.60 L1763.25 1446.10 L1763.75 1446.10 L1763.75 1445.60 L1766.25 1445.60 L1766.25 1446.10 L1766.75 1446.10 L1766.75 1445.60 L1767.25 1445.60 L1767.25 1446.10 L1769.75 1446.10 L1769.75 1449.10ZM1771.75 1449.10 L1771.75 1447.10 L1775.25 1447.10 L1775.25 1447.60 L1779.25 1447.60 L1779.25 1449.10ZM1787.75 1449.10 L1787.75 1448.10 L1793.25 1448.10 L1793.25 1449.10ZM1793.75 1449.10 L1793.75 1446.60 L1795.25 1446.60 L1795.25 1447.10 L1795.75 1447.10 L1795.75 1446.60 L1796.25 1446.60 L1796.25 1447.10 L1800.25 1447.10 L1800.25 1446.60 L1807.25 1446.60 L1807.25 1447.10 L1808.75 1447.10 L1808.75 1449.10ZM1819.75 1449.10 L1819.75 1447.60 L1824.75 1447.60 L1824.75 1448.10 L1826.75 1448.10 L1826.75 1447.60 L1829.25 1447.60 L1829.25 1447.10 L1830.75 1447.10 L1830.75 1447.60 L1831.25 1447.60 L1831.25 1449.10ZM1831.75 1449.10 L1831.75 1447.60 L1836.75 1447.60 L1836.75 1447.10 L1838.25 1447.10 L1838.25 1447.60 L1843.25 1447.60 L1843.25 1448.10 L1843.75 1448.10 L1843.75 1447.60 L1844.25 1447.60 L1844.25 1448.10 L1846.75 1448.10 L1846.75 1447.60 L1854.25 1447.60 L1854.25 1447.10 L1854.75 1447.10 L1854.75 1447.60 L1856.75 1447.60 L1856.75 1447.10 L1858.25 1447.10 L1858.25 1447.60 L1858.75 1447.60 L1858.75 1447.10 L1859.25 1447.10 L1859.25 1447.60 L1863.25 1447.60 L1863.25 1449.10ZM1866.75 1449.10 L1866.75 1447.10 L1867.75 1447.10 L1867.75 1447.60 L1871.75 1447.60 L1871.75 1448.10 L1872.25 1448.10 L1872.25 1447.60 L1873.25 1447.60 L1873.25 1448.10 L1874.25 1448.10 L1874.25 1447.60 L1874.75 1447.60 L1874.75 1448.10 L1875.25 1448.10 L1875.25 1447.60 L1880.25 1447.60 L1880.25 1449.10ZM1885.75 1449.10 L1885.75 1448.10 L1890.75 1448.10 L1890.75 1449.10ZM1894.75 1449.10 L1894.75 1448.10 L1900.25 1448.10 L1900.25 1449.10ZM1903.75 1449.10 L1903.75 1447.10 L1904.75 1447.10 L1904.75 1447.60 L1906.25 1447.60 L1906.25 1447.10 L1906.75 1447.10 L1906.75 1446.60 L1908.25 1446.60 L1908.25 1446.10 L1909.75 1446.10 L1909.75 1446.60 L1911.25 1446.60 L1911.25 1447.10 L1913.75 1447.10 L1913.75 1446.60 L1914.25 1446.60 L1914.25 1447.10 L1914.75 1447.10 L1914.75 1446.60 L1915.25 1446.60 L1915.25 1449.10ZM1916.75 1449.10 L1916.75 1447.10 L1919.75 1447.10 L1919.75 1446.60 L1924.25 1446.60 L1924.25 1447.10 L1932.25 1447.10 L1932.25 1447.60 L1935.25 1447.60 L1935.25 1447.10 L1939.25 1447.10 L1939.25 1449.10ZM1942.75 1449.10 L1942.75 1439.10 L1948.75 1439.10 L1948.75 1438.60 L1950.25 1438.60 L1950.25 1449.10ZM1965.75 1449.10 L1965.75 1447.10 L1966.75 1447.10 L1966.75 1447.60 L1972.25 1447.60 L1972.25 1447.10 L1976.75 1447.10 L1976.75 1449.10ZM1991.75 1449.10 L1991.75 1447.60 L1997.25 1447.60 L1997.25 1448.10 L2002.25 1448.10 L2002.25 1447.60 L2003.25 1447.60 L2003.25 1449.10ZM2010.25 1449.10 L2010.25 1447.10 L2021.75 1447.10 L2021.75 1449.10ZM2024.75 1449.10 L2024.75 1447.10 L2030.75 1447.10 L2030.75 1446.60 L2035.75 1446.60 L2035.75 1446.10 L2037.25 1446.10 L2037.25 1446.60 L2038.75 1446.60 L2038.75 1447.10 L2048.75 1447.10 L2048.75 1447.60 L2051.25 1447.60 L2051.25 1447.10 L2052.75 1447.10 L2052.75 1446.60 L2058.25 1446.60 L2058.25 1447.10 L2058.75 1447.10 L2058.75 1449.10ZM2062.75 1449.10 L2062.75 1447.10 L2063.75 1447.10 L2063.75 1446.60 L2068.25 1446.60 L2068.25 1447.10 L2072.75 1447.10 L2072.75 1446.60 L2075.25 1446.60 L2075.25 1447.10 L2075.75 1447.10 L2075.75 1446.60 L2076.25 1446.60 L2076.25 1447.10 L2078.75 1447.10 L2078.75 1446.60 L2079.75 1446.60 L2079.75 1446.10 L2080.75 1446.10 L2080.75 1445.60 L2082.25 1445.60 L2082.25 1446.10 L2083.25 1446.10 L2083.25 1446.60 L2084.25 1446.60 L2084.25 1447.10 L2087.25 1447.10 L2087.25 1449.10ZM2090.75 1449.10 L2090.75 1447.10 L2092.75 1447.10 L2092.75 1446.60 L2095.25 1446.60 L2095.25 1447.10 L2097.25 1447.10 L2097.25 1449.10ZM2099.75 1449.10 L2099.75 1447.60 L2103.75 1447.60 L2103.75 1447.10 L2110.75 1447.10 L2110.75 1447.60 L2112.75 1447.60 L2112.75 1448.10 L2114.75 1448.10 L2114.75 1447.60 L2116.75 1447.60 L2116.75 1447.10 L2119.75 1447.10 L2119.75 1449.10ZM2120.25 1449.10 L2120.25 1446.60 L2124.75 1446.60 L2124.75 1447.10 L2125.25 1447.10 L2125.25 1449.10ZM2130.75 1449.10 L2130.75 1447.60 L2140.75 1447.60 L2140.75 1448.10 L2142.75 1448.10 L2142.75 1447.60 L2144.75 1447.60 L2144.75 1447.10 L2148.75 1447.10 L2148.75 1447.60 L2156.25 1447.60 L2156.25 1447.10 L2156.75 1447.10 L2156.75 1449.10ZM2178.75 1449.10 L2178.75 1447.60 L2183.75 1447.60 L2183.75 1449.10ZM2189.75 1449.10 L2189.75 1447.60 L2193.25 1447.60 L2193.25 1448.10 L2194.75 1448.10 L2194.75 1447.60 L2199.75 1447.60 L2199.75 1449.10ZM2202.25 1449.10 L2202.25 1447.60 L2210.25 1447.60 L2210.25 1449.10ZM2214.75 1449.10 L2214.75 1447.10 L2215.25 1447.10 L2215.25 1446.60 L2218.25 1446.60 L2218.25 1446.10 L2219.75 1446.10 L2219.75 1446.60 L2221.25 1446.60 L2221.25 1447.10 L2225.75 1447.10 L2225.75 1446.60 L2226.25 1446.60 L2226.25 1447.10 L2227.75 1447.10 L2227.75 1446.60 L2228.25 1446.60 L2228.25 1447.10 L2228.75 1447.10 L2228.75 1446.60 L2231.25 1446.60 L2231.25 1447.10 L2233.25 1447.10 L2233.25 1447.60 L2233.75 1447.60 L2233.75 1447.10 L2234.25 1447.10 L2234.25 1447.60 L2234.75 1447.60 L2234.75 1447.10 L2236.75 1447.10 L2236.75 1449.10ZM2276.75 1449.10 L2276.75 1447.60 L2284.25 1447.60 L2284.25 1447.10 L2284.75 1447.10 L2284.75 1449.10ZM2308.75 1449.10 L2308.75 1447.60 L2309.25 1447.60 L2309.25 1447.10 L2309.75 1447.10 L2309.75 1447.60 L2314.75 1447.60 L2314.75 1449.10Z" fill="#FF8800"/>
<path d="M1354.40 1449.10 L1355.00 1443.30 L1356.30 1434.60 L1357.00 1436.05 L1357.40 1447.10 L1357.40 1449.10Z" fill="#FF8800"/>
<path d="M1536.20 1449.10 L1536.40 1370.00 L1537.50 1333.00 L1538.30 1345.00 L1539.60 1331.70 L1540.50 1370.00 L1542.80 1380.40 L1542.80 1449.10Z" fill="#FF8800"/>
<path d="M2239.10 1449.10 L2239.10 1398.50 L2245.30 1398.50 L2245.30 1449.10Z" fill="#FF8800"/>
<path d="M2334.00 1449.10 L2334.00 1398.50 L2339.20 1398.50 L2339.20 1449.10Z" fill="#FF8800"/>
<rect x="402" y="1449" width="1937.5" height="1" fill="rgb(255, 223, 186)"/>
<path d="M402 1344.2 C402 1295.7 2239.2 1326.1 2239.2 1374.6" fill="none" stroke="#FF8800" stroke-width="1" stroke-opacity="0.55"/>
<path d="M402 1449.2 C402 1497.6000000000001 2334 1497.6000000000001 2334 1449.2" fill="none" stroke="#FF8800" stroke-width="1" stroke-opacity="0.55"/>
<rect x="397.7" y="1269.60" width="4.3" height="181.60" fill="#000"/>
<rect x="380.3" y="1447.00" width="21.7" height="4.2" fill="#000"/>
<rect x="380.3" y="1402.65" width="21.7" height="4.2" fill="#000"/>
<rect x="380.3" y="1358.30" width="21.7" height="4.2" fill="#000"/>
<rect x="380.3" y="1313.95" width="21.7" height="4.2" fill="#000"/>
<rect x="380.3" y="1269.60" width="21.7" height="4.2" fill="#000"/>
<rect x="2243.3" y="350.0" width="92.40" height="83.70" fill="#fff"/>
<rect x="1284.9" y="657.7" width="71.50" height="83.60" fill="#fff"/>
<rect x="2243.2" y="684.9" width="92.40" height="83.30" fill="#fff"/>
<rect x="2243.4" y="1001.7" width="92.40" height="84.10" fill="#fff"/>
<rect x="1284.6" y="1280.7" width="71.80" height="84.10" fill="#fff"/>
<rect x="2233.4" y="1314.6" width="113.60" height="83.90" fill="#fff"/>
<rect x="1331.8" y="1444.0" width="72.10" height="83.00" fill="#fff"/>
<rect x="2239.1" y="1392" width="8.9" height="1" fill="#FF8800" opacity="0.75"/>
<rect x="2331.2" y="1392" width="7.7" height="1" fill="#FF8800" opacity="0.75"/>
<rect x="397.8" y="1553.4" width="1943.5" height="4.4" fill="#000"/>
<rect x="397.85" y="1555" width="4.3" height="20.3" fill="#000"/>
<rect x="785.65" y="1555" width="4.3" height="20.3" fill="#000"/>
<rect x="1173.45" y="1555" width="4.3" height="20.3" fill="#000"/>
<rect x="1561.25" y="1555" width="4.3" height="20.3" fill="#000"/>
<rect x="1949.05" y="1555" width="4.3" height="20.3" fill="#000"/>
<rect x="2336.85" y="1555" width="4.3" height="20.3" fill="#000"/>
<text id="title" transform="translate(0 98.57) scale(0.9678 1)" x="354.08 387.09 424.83 446.78 483.60 519.88 539.24 575.23 612.51 649.02 685.32 722.14 758.58 794.81 831.38 850.75 886.73 924.02 960.52 996.83 1033.65 1070.09 1106.50 1142.89 1161.26 1180.05 1239.13 1272.13 1309.87 1331.82 1368.64 1404.92 1424.28 1460.27 1497.55 1534.07 1570.66 1606.99 1643.62 1680.15 1716.43 1735.79 1771.77 1809.06 1845.57 1882.17 1918.61 1955.13 1990.90 2027.93 2046.30 2065.09 2124.17 2157.17 2194.91 2216.86 2253.68 2289.96 2309.32 2345.31 2382.59 2419.11 2455.33 2492.15 2527.91 2564.43 2601.47 2620.83 2656.82 2694.10 2730.61 2766.84 2803.54 2839.95 2875.94 2912.97 2931.34" y="0.00 0.00 0.00 0.00 0.00 1.45 0.00 0.00 0.00 0.00 0.00 0.00 0.00 0.00 1.45 0.00 0.00 0.00 0.00 0.00 0.00 0.00 0.00 1.45 0.68 2.82 0.00 0.00 0.00 0.00 0.00 1.45 0.00 0.00 0.00 0.00 0.00 0.00 0.00 0.00 1.45 0.00 0.00 0.00 0.00 0.00 0.00 0.00 0.00 1.45 0.68 2.82 0.00 0.00 0.00 0.00 0.00 1.45 0.00 0.00 0.00 0.00 0.00 0.00 0.00 0.00 1.45 0.00 0.00 0.00 0.00 0.00 0.00 0.00 0.00 1.45 0.68" font-size="59.84" fill="#000" stroke="#000" stroke-width="0.7" stroke-linejoin="round">chr10:52645341:52645387:-@chr10:52603748:52603882:-@chr10:52601622:52601752:-</text>
<text id="yt0_1" transform="translate(0 485.45) scale(0.9693 1)" x="315.33 344.74" y="0" font-size="47.36" fill="#000" stroke="#000" stroke-width="0.9" stroke-linejoin="round">14</text>
<text id="yt0_2" transform="translate(0 441.10) scale(1.0032 1)" x="303.89 333.43" y="0" font-size="47.36" fill="#000" stroke="#000" stroke-width="0.9" stroke-linejoin="round">28</text>
<text id="yt0_3" transform="translate(0 396.75) scale(0.9931 1)" x="306.74 335.23" y="0" font-size="47.36" fill="#000" stroke="#000" stroke-width="0.9" stroke-linejoin="round">42</text>
<text id="yt0_4" transform="translate(0 352.40) scale(1.0068 1)" x="303.02 332.11" y="0" font-size="47.36" fill="#000" stroke="#000" stroke-width="0.9" stroke-linejoin="round">56</text>
<text id="yl0" transform="translate(272.65 474.30) rotate(-90) scale(0.9183 1)" x="-3.45 29.72 60.97 93.07" y="0" font-size="47.32" fill="#000" stroke="#000" stroke-width="0.6" stroke-linejoin="round">RPKM</text>
<text id="pt0" transform="translate(0 347.39) scale(0.9605 1)" x="1173.71 1206.65 1233.68 1265.97 1294.32 1308.60 1338.41 1372.61 1398.81 1429.24 1458.39 1485.03 1510.07 1545.70 1574.88 1602.04 1639.28 1666.32 1691.92 1722.01 1751.27 1780.95 1809.24 1826.94 1856.02 1884.92 1902.61 1932.21 1958.72 1983.68 2016.95 2050.77 2068.47 2094.28 2111.44 2126.60 2154.68 2180.57 2206.03 2235.20 2261.95 2290.29 2303.25 2316.14 2334.04 2362.59 2378.25 2407.71" y="0.00 0.00 0.00 0.00 0.00 0.00 0.00 0.00 0.00 0.00 0.00 1.19 0.00 0.00 0.00 0.00 0.00 1.19 0.00 0.00 0.00 0.00 0.14 0.00 0.00 0.14 0.00 0.00 1.19 0.00 0.00 0.14 0.00 0.00 0.00 0.00 0.00 0.00 0.00 0.00 0.00 0.00 0.75 0.00 0.00 -0.28 0.00 0.00" font-size="46.41" fill="#CC0011" stroke="#CC0011" stroke-width="0.9" stroke-linejoin="round">A1CF BCLAF1_HepG2_2014-12-17_NC-1 IncLevel: 0.60</text>
<text id="yt1_1" transform="translate(0 797.35) scale(0.9693 1)" x="315.33 344.74" y="0" font-size="47.36" fill="#000" stroke="#000" stroke-width="0.9" stroke-linejoin="round">14</text>
<text id="yt1_2" transform="translate(0 753.00) scale(1.0032 1)" x="303.89 333.43" y="0" font-size="47.36" fill="#000" stroke="#000" stroke-width="0.9" stroke-linejoin="round">28</text>
<text id="yt1_3" transform="translate(0 708.65) scale(0.9931 1)" x="306.74 335.23" y="0" font-size="47.36" fill="#000" stroke="#000" stroke-width="0.9" stroke-linejoin="round">42</text>
<text id="yt1_4" transform="translate(0 664.30) scale(1.0068 1)" x="303.02 332.11" y="0" font-size="47.36" fill="#000" stroke="#000" stroke-width="0.9" stroke-linejoin="round">56</text>
<text id="yl1" transform="translate(272.65 786.20) rotate(-90) scale(0.9183 1)" x="-3.67 29.50 60.75 92.85" y="0" font-size="47.32" fill="#000" stroke="#000" stroke-width="0.6" stroke-linejoin="round">RPKM</text>
<text id="pt1" transform="translate(0 659.59) scale(0.9588 1)" x="1176.27 1209.26 1236.35 1268.69 1297.04 1311.39 1341.25 1375.51 1401.75 1432.23 1461.43 1488.11 1513.21 1548.89 1578.12 1605.33 1642.63 1669.71 1695.36 1725.50 1754.81 1784.54 1812.88 1830.61 1859.74 1888.68 1906.41 1936.06 1962.62 1987.62 2020.95 2054.82 2072.15 2097.97 2115.59 2130.78 2158.91 2184.85 2210.35 2239.56 2266.37 2294.74 2307.72 2320.62 2338.36 2367.16 2382.85 2412.37" y="0.00 0.00 0.00 0.00 0.00 0.00 0.00 0.00 0.00 0.00 0.00 1.19 0.00 0.00 0.00 0.00 0.00 1.19 0.00 0.00 0.00 0.00 0.14 0.00 0.00 0.14 0.00 0.00 1.19 0.00 0.00 0.14 0.00 0.00 0.00 0.00 0.00 0.00 0.00 0.00 0.00 0.00 0.75 0.00 0.00 -0.28 0.00 0.00" font-size="46.41" fill="#CC0011" stroke="#CC0011" stroke-width="0.9" stroke-linejoin="round">A1CF BCLAF1_HepG2_2014-12-17_NC-2 IncLevel: 1.00</text>
<text id="yt2_1" transform="translate(0 1109.25) scale(0.9693 1)" x="315.33 344.74" y="0" font-size="47.36" fill="#000" stroke="#000" stroke-width="0.9" stroke-linejoin="round">14</text>
<text id="yt2_2" transform="translate(0 1064.90) scale(1.0032 1)" x="303.89 333.43" y="0" font-size="47.36" fill="#000" stroke="#000" stroke-width="0.9" stroke-linejoin="round">28</text>
<text id="yt2_3" transform="translate(0 1020.55) scale(0.9931 1)" x="306.74 335.23" y="0" font-size="47.36" fill="#000" stroke="#000" stroke-width="0.9" stroke-linejoin="round">42</text>
<text id="yt2_4" transform="translate(0 976.20) scale(1.0068 1)" x="303.02 332.11" y="0" font-size="47.36" fill="#000" stroke="#000" stroke-width="0.9" stroke-linejoin="round">56</text>
<text id="yl2" transform="translate(272.65 1098.10) rotate(-90) scale(0.9183 1)" x="-3.89 29.28 60.53 92.64" y="0" font-size="47.32" fill="#000" stroke="#000" stroke-width="0.6" stroke-linejoin="round">RPKM</text>
<text id="pt2" transform="translate(0 971.69) scale(0.9652 1)" x="1086.94 1119.74 1146.65 1178.81 1207.16 1221.26 1250.93 1285.00 1311.09 1341.39 1370.42 1396.95 1421.87 1457.37 1486.42 1513.45 1550.56 1577.48 1602.98 1632.94 1662.07 1691.63 1719.83 1737.42 1766.38 1795.18 1812.78 1842.25 1868.65 1893.76 1924.37 1960.11 1975.09 2002.25 2040.34 2057.93 2083.74 2100.76 2115.82 2143.79 2169.57 2194.92 2223.97 2250.61 2278.86 2291.76 2304.65 2322.17 2350.85 2366.40 2395.75" y="0.00 0.00 0.00 0.00 0.00 0.00 0.00 0.00 0.00 0.00 0.00 1.19 0.00 0.00 0.00 0.00 0.00 1.19 0.00 0.00 0.00 0.00 0.14 0.00 0.00 0.14 0.00 0.00 1.19 0.00 0.00 2.43 0.00 0.00 0.14 0.00 0.00 0.00 0.00 0.00 0.00 0.00 0.00 0.00 0.00 0.75 0.00 0.00 -0.28 0.00 0.00" font-size="46.41" fill="#FF8800" stroke="#FF8800" stroke-width="0.9" stroke-linejoin="round">A1CF BCLAF1_HepG2_2014-12-17_KD/KO-1 IncLevel: 1.00</text>
<text id="yt3_1" transform="translate(0 1421.15) scale(0.9693 1)" x="315.33 344.74" y="0" font-size="47.36" fill="#000" stroke="#000" stroke-width="0.9" stroke-linejoin="round">14</text>
<text id="yt3_2" transform="translate(0 1376.80) scale(1.0032 1)" x="303.89 333.43" y="0" font-size="47.36" fill="#000" stroke="#000" stroke-width="0.9" stroke-linejoin="round">28</text>
<text id="yt3_3" transform="translate(0 1332.45) scale(0.9931 1)" x="306.74 335.23" y="0" font-size="47.36" fill="#000" stroke="#000" stroke-width="0.9" stroke-linejoin="round">42</text>
<text id="yt3_4" transform="translate(0 1288.10) scale(1.0068 1)" x="303.02 332.11" y="0" font-size="47.36" fill="#000" stroke="#000" stroke-width="0.9" stroke-linejoin="round">56</text>
<text id="yl3" transform="translate(272.65 1410.00) rotate(-90) scale(0.9183 1)" x="-3.56 29.61 60.86 92.96" y="0" font-size="47.32" fill="#000" stroke="#000" stroke-width="0.6" stroke-linejoin="round">RPKM</text>
<text id="pt3" transform="translate(0 1283.49) scale(0.9654 1)" x="1086.72 1119.52 1146.42 1178.58 1206.93 1221.02 1250.69 1284.75 1310.83 1341.13 1370.15 1396.68 1421.60 1457.09 1486.13 1513.16 1550.26 1577.17 1602.66 1632.62 1661.74 1691.30 1719.49 1737.08 1766.04 1794.83 1812.42 1841.89 1868.29 1893.39 1924.00 1959.73 1974.70 2001.85 2039.94 2057.14 2082.95 2100.35 2115.41 2143.38 2169.14 2194.49 2223.53 2250.17 2278.42 2291.31 2304.21 2321.72 2350.39 2365.94 2395.28" y="0.00 0.00 0.00 0.00 0.00 0.00 0.00 0.00 0.00 0.00 0.00 1.19 0.00 0.00 0.00 0.00 0.00 1.19 0.00 0.00 0.00 0.00 0.14 0.00 0.00 0.14 0.00 0.00 1.19 0.00 0.00 2.43 0.00 0.00 0.14 0.00 0.00 0.00 0.00 0.00 0.00 0.00 0.00 0.00 0.00 0.75 0.00 0.00 -0.28 0.00 0.00" font-size="46.41" fill="#FF8800" stroke="#FF8800" stroke-width="0.9" stroke-linejoin="round">A1CF BCLAF1_HepG2_2014-12-17_KD/KO-2 IncLevel: 1.00</text>
<text id="j40" transform="translate(0 400.63) scale(1.0223 1)" x="2219.84 2240.75" y="0" font-size="34.59" fill="#000" stroke="#000" stroke-width="0.9" stroke-linejoin="round">40</text>
<text id="j2a" transform="translate(0 708.23) scale(1.0408 1)" x="1258.71" y="0" font-size="34.59" fill="#000" stroke="#000" stroke-width="0.9" stroke-linejoin="round">2</text>
<text id="j77" transform="translate(0 735.13) scale(1.0029 1)" x="2262.89 2284.26" y="0" font-size="34.59" fill="#000" stroke="#000" stroke-width="0.9" stroke-linejoin="round">77</text>
<text id="j69" transform="translate(0 1052.73) scale(1.0845 1)" x="2091.84 2111.96" y="0" font-size="34.59" fill="#000" stroke="#000" stroke-width="0.9" stroke-linejoin="round">69</text>
<text id="j3" transform="translate(0 1331.73) scale(1.0611 1)" x="1234.32" y="0" font-size="34.59" fill="#000" stroke="#000" stroke-width="0.9" stroke-linejoin="round">3</text>
<text id="j108" transform="translate(0 1365.43) scale(1.0187 1)" x="2217.04 2238.33 2259.45" y="0" font-size="34.59" fill="#000" stroke="#000" stroke-width="0.9" stroke-linejoin="round">108</text>
<text id="j2b" transform="translate(0 1494.03) scale(1.0662 1)" x="1273.06" y="0" font-size="34.59" fill="#000" stroke="#000" stroke-width="0.9" stroke-linejoin="round">2</text>
<text id="xt0" transform="translate(0 1619.82) scale(1.0079 1)" x="307.93 330.24 353.34 375.97 398.47 421.29 443.88 466.51" y="0" font-size="36.93" fill="#000" stroke="#000" stroke-width="0.8" stroke-linejoin="round">52645388</text>
<text id="xt1" transform="translate(0 1619.82) scale(1.0249 1)" x="679.98 702.01 724.84 747.24 769.55 791.91 814.32 836.63" y="0" font-size="36.93" fill="#000" stroke="#000" stroke-width="0.8" stroke-linejoin="round">52636636</text>
<text id="xt2" transform="translate(0 1619.82) scale(1.0129 1)" x="1071.57 1093.87 1116.99 1139.15 1162.19 1184.90 1207.54 1230.23" y="0" font-size="36.93" fill="#000" stroke="#000" stroke-width="0.8" stroke-linejoin="round">52627883</text>
<text id="xt3" transform="translate(0 1619.82) scale(1.0078 1)" x="1461.30 1483.66 1506.83 1529.33 1552.09 1574.71 1597.63 1620.27" y="0" font-size="36.93" fill="#000" stroke="#000" stroke-width="0.8" stroke-linejoin="round">52619130</text>
<text id="xt4" transform="translate(0 1619.82) scale(0.9961 1)" x="1868.81 1891.26 1914.52 1937.13 1960.09 1982.93 2005.60 2028.39" y="0" font-size="36.93" fill="#000" stroke="#000" stroke-width="0.8" stroke-linejoin="round">52610377</text>
<text id="xt5" transform="translate(0 1619.82) scale(1.0071 1)" x="2233.54 2255.76 2278.77 2301.31 2323.67 2346.40 2368.48 2391.48" y="0" font-size="36.93" fill="#000" stroke="#000" stroke-width="0.8" stroke-linejoin="round">52601624</text>
<text id="xl" transform="translate(0 1682.57) scale(1.0303 1)" x="907.40 942.64 969.67 996.54 1024.64 1065.61 1076.62 1099.51 1114.17 1138.56 1165.04 1193.11 1208.83 1236.50 1248.65 1273.90 1303.53 1319.17 1344.62 1358.54 1375.69 1400.57 1429.08 1445.57 1473.35 1501.83 1516.81 1529.53 1546.07 1564.34 1581.60 1597.85 1613.57 1637.99 1655.06 1669.65 1698.35 1725.45" y="0.00 0.00 0.00 0.00 0.00 0.00 0.00 0.00 0.00 0.00 0.00 0.00 0.00 0.00 0.00 0.00 0.00 0.00 0.00 -2.11 0.00 0.00 0.00 0.00 0.00 -2.11 -0.65 0.00 0.12 -0.03 0.12 0.00 0.00 0.00 0.00 0.00 0.00 0.00" font-size="45.76" fill="#000" stroke="#000" stroke-width="0.35" stroke-linejoin="round">Genomic coordinate (chr10), &quot;-&quot; strand</text>
<rect x="400" y="2192.65" width="1939" height="2.5" fill="#000"/>
<path d="M429.80 2180.60 L439.50 2193.90 L429.80 2207.20 M468.59 2180.60 L478.29 2193.90 L468.59 2207.20 M507.38 2180.60 L517.08 2193.90 L507.38 2207.20 M546.17 2180.60 L555.87 2193.90 L546.17 2207.20 M584.96 2180.60 L594.66 2193.90 L584.96 2207.20 M623.75 2180.60 L633.45 2193.90 L623.75 2207.20 M662.54 2180.60 L672.24 2193.90 L662.54 2207.20 M701.33 2180.60 L711.03 2193.90 L701.33 2207.20 M740.12 2180.60 L749.82 2193.90 L740.12 2207.20 M778.91 2180.60 L788.61 2193.90 L778.91 2207.20 M817.70 2180.60 L827.40 2193.90 L817.70 2207.20 M856.49 2180.60 L866.19 2193.90 L856.49 2207.20 M895.28 2180.60 L904.98 2193.90 L895.28 2207.20 M934.07 2180.60 L943.77 2193.90 L934.07 2207.20 M972.86 2180.60 L982.56 2193.90 L972.86 2207.20 M1011.65 2180.60 L1021.35 2193.90 L1011.65 2207.20 M1050.44 2180.60 L1060.14 2193.90 L1050.44 2207.20 M1089.23 2180.60 L1098.93 2193.90 L1089.23 2207.20 M1128.02 2180.60 L1137.72 2193.90 L1128.02 2207.20 M1166.81 2180.60 L1176.51 2193.90 L1166.81 2207.20 M1205.60 2180.60 L1215.30 2193.90 L1205.60 2207.20 M1244.39 2180.60 L1254.09 2193.90 L1244.39 2207.20 M1283.18 2180.60 L1292.88 2193.90 L1283.18 2207.20 M1321.97 2180.60 L1331.67 2193.90 L1321.97 2207.20 M1360.76 2180.60 L1370.46 2193.90 L1360.76 2207.20 M1399.55 2180.60 L1409.25 2193.90 L1399.55 2207.20 M1438.34 2180.60 L1448.04 2193.90 L1438.34 2207.20 M1477.13 2180.60 L1486.83 2193.90 L1477.13 2207.20 M1515.92 2180.60 L1525.62 2193.90 L1515.92 2207.20 M1554.71 2180.60 L1564.41 2193.90 L1554.71 2207.20 M1593.50 2180.60 L1603.20 2193.90 L1593.50 2207.20 M1632.29 2180.60 L1641.99 2193.90 L1632.29 2207.20 M1671.08 2180.60 L1680.78 2193.90 L1671.08 2207.20 M1709.87 2180.60 L1719.57 2193.90 L1709.87 2207.20 M1748.66 2180.60 L1758.36 2193.90 L1748.66 2207.20 M1787.45 2180.60 L1797.15 2193.90 L1787.45 2207.20 M1826.24 2180.60 L1835.94 2193.90 L1826.24 2207.20 M1865.03 2180.60 L1874.73 2193.90 L1865.03 2207.20 M1903.82 2180.60 L1913.52 2193.90 L1903.82 2207.20 M1942.61 2180.60 L1952.31 2193.90 L1942.61 2207.20 M1981.40 2180.60 L1991.10 2193.90 L1981.40 2207.20 M2020.19 2180.60 L2029.89 2193.90 L2020.19 2207.20 M2058.98 2180.60 L2068.68 2193.90 L2058.98 2207.20 M2097.77 2180.60 L2107.47 2193.90 L2097.77 2207.20 M2136.56 2180.60 L2146.26 2193.90 L2136.56 2207.20 M2175.35 2180.60 L2185.05 2193.90 L2175.35 2207.20 M2214.14 2180.60 L2223.84 2193.90 L2214.14 2207.20 M2252.93 2180.60 L2262.63 2193.90 L2252.93 2207.20 M2291.72 2180.60 L2301.42 2193.90 L2291.72 2207.20" fill="none" stroke="#000" stroke-width="2.5"/>
<rect x="399.9" y="2164.40" width="2.0" height="59.5" fill="#000"/>
<rect x="2239.3" y="2164.40" width="6.2" height="59.8" fill="#000"/>
<rect x="2333.2" y="2164.40" width="6.4" height="59.8" fill="#000"/>
<rect x="400" y="2391.65" width="1939" height="2.5" fill="#000"/>
<path d="M429.80 2379.60 L439.50 2392.90 L429.80 2406.20 M468.59 2379.60 L478.29 2392.90 L468.59 2406.20 M507.38 2379.60 L517.08 2392.90 L507.38 2406.20 M546.17 2379.60 L555.87 2392.90 L546.17 2406.20 M584.96 2379.60 L594.66 2392.90 L584.96 2406.20 M623.75 2379.60 L633.45 2392.90 L623.75 2406.20 M662.54 2379.60 L672.24 2392.90 L662.54 2406.20 M701.33 2379.60 L711.03 2392.90 L701.33 2406.20 M740.12 2379.60 L749.82 2392.90 L740.12 2406.20 M778.91 2379.60 L788.61 2392.90 L778.91 2406.20 M817.70 2379.60 L827.40 2392.90 L817.70 2406.20 M856.49 2379.60 L866.19 2392.90 L856.49 2406.20 M895.28 2379.60 L904.98 2392.90 L895.28 2406.20 M934.07 2379.60 L943.77 2392.90 L934.07 2406.20 M972.86 2379.60 L982.56 2392.90 L972.86 2406.20 M1011.65 2379.60 L1021.35 2392.90 L1011.65 2406.20 M1050.44 2379.60 L1060.14 2392.90 L1050.44 2406.20 M1089.23 2379.60 L1098.93 2392.90 L1089.23 2406.20 M1128.02 2379.60 L1137.72 2392.90 L1128.02 2406.20 M1166.81 2379.60 L1176.51 2392.90 L1166.81 2406.20 M1205.60 2379.60 L1215.30 2392.90 L1205.60 2406.20 M1244.39 2379.60 L1254.09 2392.90 L1244.39 2406.20 M1283.18 2379.60 L1292.88 2392.90 L1283.18 2406.20 M1321.97 2379.60 L1331.67 2392.90 L1321.97 2406.20 M1360.76 2379.60 L1370.46 2392.90 L1360.76 2406.20 M1399.55 2379.60 L1409.25 2392.90 L1399.55 2406.20 M1438.34 2379.60 L1448.04 2392.90 L1438.34 2406.20 M1477.13 2379.60 L1486.83 2392.90 L1477.13 2406.20 M1515.92 2379.60 L1525.62 2392.90 L1515.92 2406.20 M1554.71 2379.60 L1564.41 2392.90 L1554.71 2406.20 M1593.50 2379.60 L1603.20 2392.90 L1593.50 2406.20 M1632.29 2379.60 L1641.99 2392.90 L1632.29 2406.20 M1671.08 2379.60 L1680.78 2392.90 L1671.08 2406.20 M1709.87 2379.60 L1719.57 2392.90 L1709.87 2406.20 M1748.66 2379.60 L1758.36 2392.90 L1748.66 2406.20 M1787.45 2379.60 L1797.15 2392.90 L1787.45 2406.20 M1826.24 2379.60 L1835.94 2392.90 L1826.24 2406.20 M1865.03 2379.60 L1874.73 2392.90 L1865.03 2406.20 M1903.82 2379.60 L1913.52 2392.90 L1903.82 2406.20 M1942.61 2379.60 L1952.31 2392.90 L1942.61 2406.20 M1981.40 2379.60 L1991.10 2392.90 L1981.40 2406.20 M2020.19 2379.60 L2029.89 2392.90 L2020.19 2406.20 M2058.98 2379.60 L2068.68 2392.90 L2058.98 2406.20 M2097.77 2379.60 L2107.47 2392.90 L2097.77 2406.20 M2136.56 2379.60 L2146.26 2392.90 L2136.56 2406.20 M2175.35 2379.60 L2185.05 2392.90 L2175.35 2406.20 M2214.14 2379.60 L2223.84 2392.90 L2214.14 2406.20 M2252.93 2379.60 L2262.63 2392.90 L2252.93 2406.20 M2291.72 2379.60 L2301.42 2392.90 L2291.72 2406.20" fill="none" stroke="#000" stroke-width="2.5"/>
<rect x="399.9" y="2363.40" width="2.0" height="59.5" fill="#000"/>
<rect x="2333.2" y="2363.40" width="6.4" height="59.8" fill="#000"/>
</g></svg>
</body></html>
